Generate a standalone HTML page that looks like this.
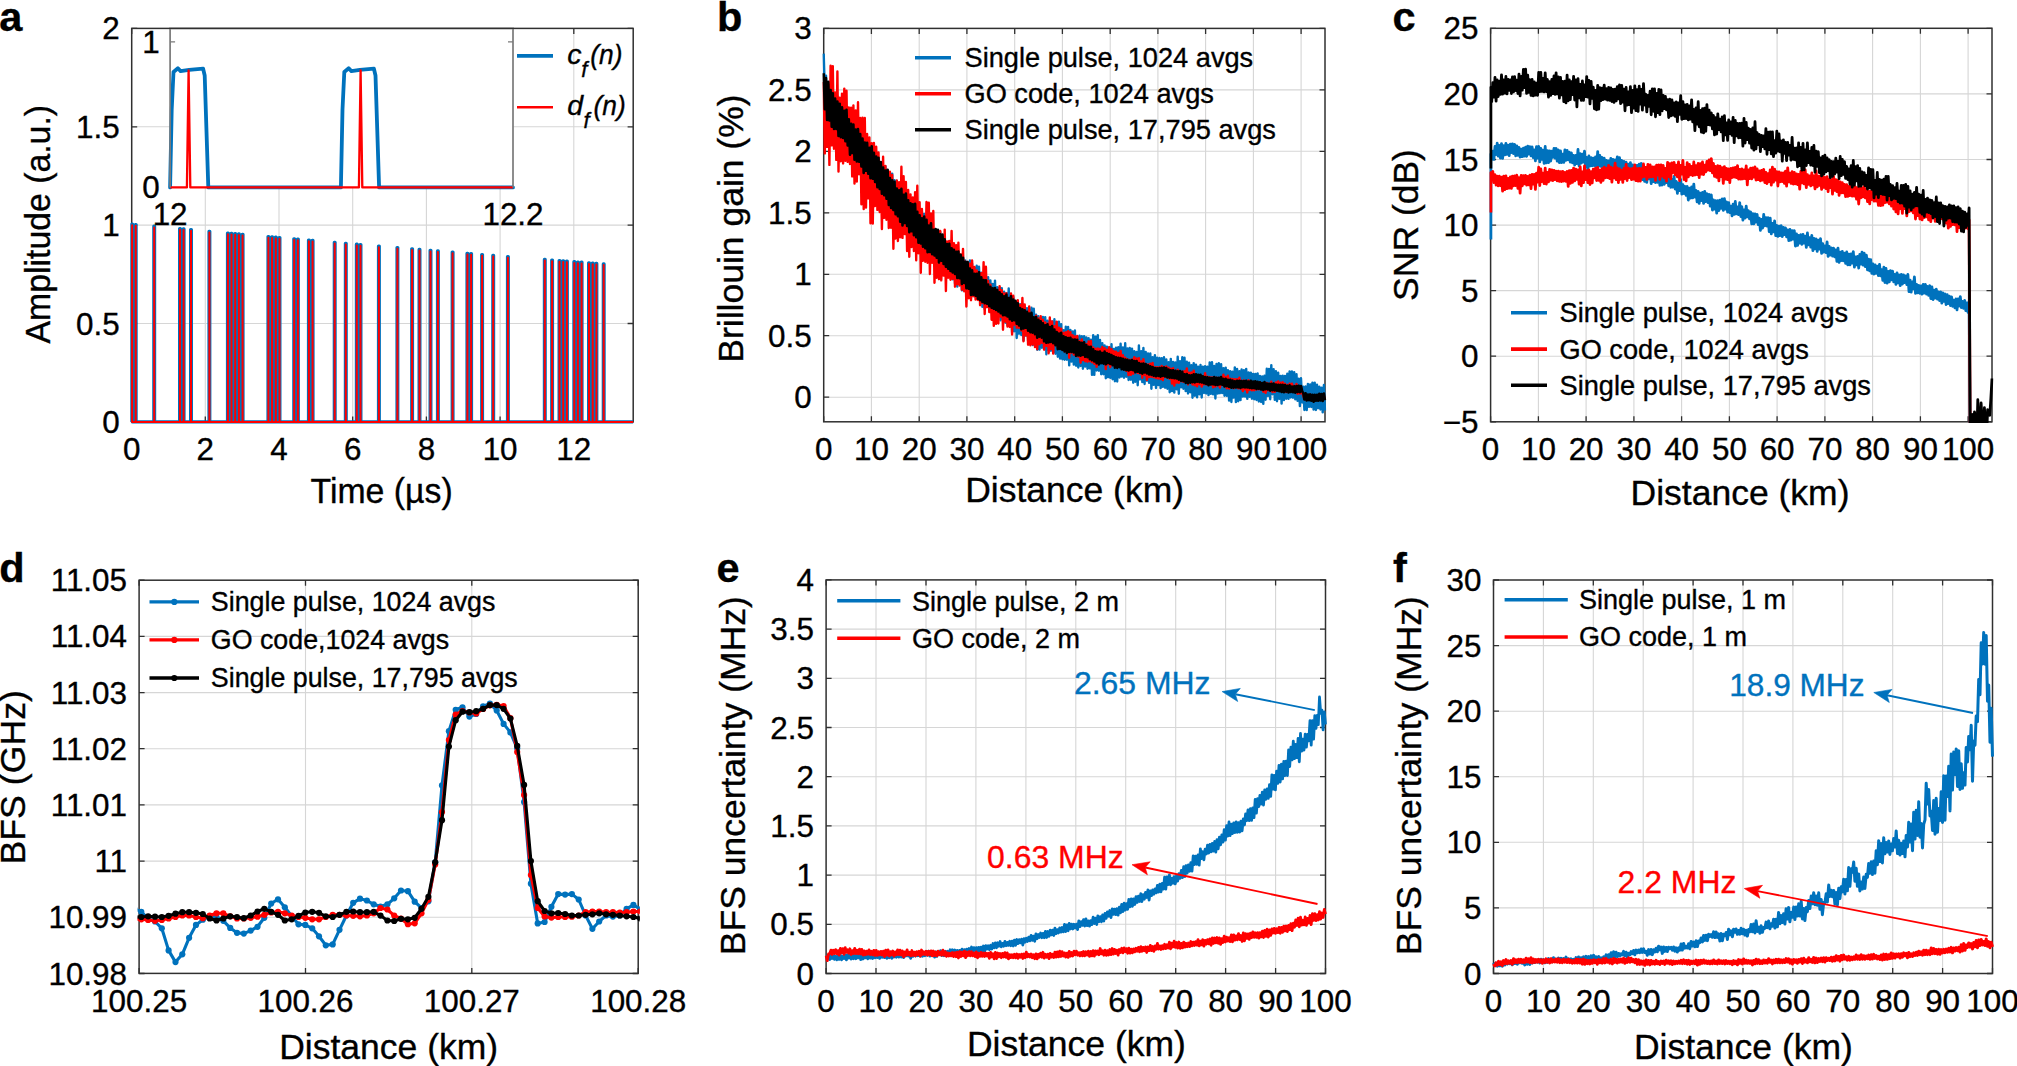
<!DOCTYPE html>
<html><head><meta charset="utf-8"><title>Figure</title>
<style>html,body{margin:0;padding:0;background:#fff}svg{display:block}text{font-family:'Liberation Sans', Arial, Helvetica, sans-serif;stroke-width:0.35px;paint-order:stroke}</style>
</head><body>
<svg width="2017" height="1066" viewBox="0 0 2017 1066">
<defs><clipPath id="cpa"><rect x="130.2" y="28.4" width="504.5" height="394.7"/></clipPath><clipPath id="cpb"><rect x="822.2" y="28.4" width="504.3" height="394.6"/></clipPath><clipPath id="cpc"><rect x="1489.1" y="28.3" width="504.4" height="394.7"/></clipPath><clipPath id="cpd"><rect x="137.6" y="580.2" width="502.1" height="394.4"/></clipPath><clipPath id="cpe"><rect x="824.6" y="579.9" width="502.4" height="394.8"/></clipPath><clipPath id="cpf"><rect x="1492" y="580" width="502" height="394.7"/></clipPath><clipPath id="cpa2"><rect x="130.2" y="28.4" width="504" height="397.5"/></clipPath><clipPath id="cpi"><rect x="168.6" y="28.4" width="345.9" height="160.2"/></clipPath></defs>
<rect width="2017" height="1066" fill="#fff"/>
<path d="M205.3 28.4V421.9M279 28.4V421.9M352.7 28.4V421.9M426.4 28.4V421.9M500.1 28.4V421.9M573.8 28.4V421.9M131.7 323.5H633.1M131.7 225.1H633.1M131.7 126.8H633.1" stroke="#d6d6d6" stroke-width="1.1" fill="none"/>
<path d="M131.7 421.9v-5.5M131.7 28.4v5.5M205.3 421.9v-5.5M205.3 28.4v5.5M279 421.9v-5.5M279 28.4v5.5M352.7 421.9v-5.5M352.7 28.4v5.5M426.4 421.9v-5.5M426.4 28.4v5.5M500.1 421.9v-5.5M500.1 28.4v5.5M573.8 421.9v-5.5M573.8 28.4v5.5M131.7 421.9h5.5M633.1 421.9h-5.5M131.7 323.5h5.5M633.1 323.5h-5.5M131.7 225.1h5.5M633.1 225.1h-5.5M131.7 126.8h5.5M633.1 126.8h-5.5M131.7 28.4h5.5M633.1 28.4h-5.5" stroke="#303030" stroke-width="1.3" fill="none"/>
<rect x="131.7" y="28.4" width="501.5" height="393.5" fill="none" stroke="#303030" stroke-width="1.5"/>
<path d="M131.7 421.9H131.7V224.1H132.5V421.9H135.3V224.5H136.1V421.9H153.8V226.2H154.6V421.9H179.6V228.6H180.4V421.9H183.2V228.9H184V421.9H190.6V229.6H191.4V421.9H209V231.3H209.8V421.9H227.5V233H228.3V421.9H231.1V233.3H231.9V421.9H234.8V233.6H235.6V421.9H238.5V233.9H239.3V421.9H242.2V234.3H243V421.9H268V236.6H268.8V421.9H271.7V236.9H272.5V421.9H275.4V237.2H276.2V421.9H279.1V237.5H279.9V421.9H293.8V238.8H294.6V421.9H297.5V239.1H298.3V421.9H308.5V240.1H309.3V421.9H312.2V240.4H313V421.9H334.3V242.3H335.1V421.9H345.4V243.3H346.2V421.9H356.4V244.2H357.2V421.9H360.1V244.5H360.9V421.9H378.5V246.1H379.3V421.9H397V247.6H397.8V421.9H411.7V248.8H412.5V421.9H419.1V249.4H419.9V421.9H430.1V250.3H430.9V421.9H437.5V250.9H438.3V421.9H452.2V252.1H453V421.9H467V253.3H467.8V421.9H470.7V253.6H471.5V421.9H481.7V254.5H482.5V421.9H492.8V255.4H493.6V421.9H507.5V256.5H508.3V421.9H544.4V259.4H545.2V421.9H551.7V260H552.5V421.9H559.1V260.5H559.9V421.9H562.8V260.8H563.6V421.9H566.5V261.1H567.3V421.9H573.9V261.7H574.7V421.9H577.5V262H578.3V421.9H581.2V262.2H582V421.9H588.6V262.8H589.4V421.9H592.3V263.1H593.1V421.9H596V263.4H596.8V421.9H603.3V263.9H604.1V421.9H633.1" fill="none" stroke="#0072BD" stroke-width="3.2" stroke-linejoin="round" clip-path="url(#cpa2)"/>
<path d="M131.7 421.9H132.1V225.3V421.9H135.7V225.7V421.9H154.2V227.4V421.9H180V229.8V421.9H183.6V230.1V421.9H191V230.8V421.9H209.4V232.5V421.9H227.9V234.2V421.9H231.5V234.5V421.9H235.2V234.8V421.9H238.9V235.1V421.9H242.6V235.5V421.9H268.4V237.8V421.9H272.1V238.1V421.9H275.8V238.4V421.9H279.5V238.7V421.9H294.2V240V421.9H297.9V240.3V421.9H308.9V241.3V421.9H312.6V241.6V421.9H334.7V243.5V421.9H345.8V244.5V421.9H356.8V245.4V421.9H360.5V245.7V421.9H378.9V247.3V421.9H397.4V248.8V421.9H412.1V250V421.9H419.5V250.6V421.9H430.5V251.5V421.9H437.9V252.1V421.9H452.6V253.3V421.9H467.4V254.5V421.9H471.1V254.8V421.9H482.1V255.7V421.9H493.2V256.6V421.9H507.9V257.7V421.9H544.8V260.6V421.9H552.1V261.2V421.9H559.5V261.7V421.9H563.2V262V421.9H566.9V262.3V421.9H574.3V262.9V421.9H577.9V263.2V421.9H581.6V263.4V421.9H589V264V421.9H592.7V264.3V421.9H596.4V264.6V421.9H603.7V265.1V421.9H633.1" fill="none" stroke="#FF0000" stroke-width="2.0" stroke-linejoin="round" clip-path="url(#cpa2)"/>
<text transform="translate(131.7 460.4)" font-size="31.4" text-anchor="middle" stroke="#000">0</text>
<text transform="translate(205.3 460.4)" font-size="31.4" text-anchor="middle" stroke="#000">2</text>
<text transform="translate(279 460.4)" font-size="31.4" text-anchor="middle" stroke="#000">4</text>
<text transform="translate(352.7 460.4)" font-size="31.4" text-anchor="middle" stroke="#000">6</text>
<text transform="translate(426.4 460.4)" font-size="31.4" text-anchor="middle" stroke="#000">8</text>
<text transform="translate(500.1 460.4)" font-size="31.4" text-anchor="middle" stroke="#000">10</text>
<text transform="translate(573.8 460.4)" font-size="31.4" text-anchor="middle" stroke="#000">12</text>
<text transform="translate(119.6 432.9)" font-size="31.4" text-anchor="end" stroke="#000">0</text>
<text transform="translate(119.6 334.5)" font-size="31.4" text-anchor="end" stroke="#000">0.5</text>
<text transform="translate(119.6 236.1)" font-size="31.4" text-anchor="end" stroke="#000">1</text>
<text transform="translate(119.6 137.8)" font-size="31.4" text-anchor="end" stroke="#000">1.5</text>
<text transform="translate(119.6 39.4)" font-size="31.4" text-anchor="end" stroke="#000">2</text>
<text transform="translate(381.6 502.5) scale(0.980 1)" font-size="34.5" text-anchor="middle" stroke="#000">Time (µs)</text>
<text transform="translate(50.2 224.2) rotate(-90) scale(0.980 1)" font-size="34.5" text-anchor="middle" stroke="#000">Amplitude (a.u.)</text>
<rect x="170.1" y="28.4" width="342.9" height="159" fill="#fff"/>
<path d="M170.1 187.4L170.1 187.4L171.7 109.5L173.5 72L177.9 68.3L180.6 71.1L189.1 69.9L203.1 68.7L204.7 75.5L208.3 187.4L340.9 187.4L342.5 109.5L344.3 72L348.7 68.3L351.4 71.1L359.9 69.9L373.9 68.7L375.5 75.5L379.1 187.4L513 187.4" fill="none" stroke="#0072BD" stroke-width="3.8" stroke-linejoin="round" stroke-linecap="round"/>
<path d="M170.1 187.4L186.9 187.4L188.6 70.5L190.3 187.4L358.9 187.4L360.6 70.5L362.3 187.4L513 187.4" fill="none" stroke="#FF0000" stroke-width="2.3" stroke-linejoin="round"/>
<path d="M170.1 41.8h5M513 41.8h-5" stroke="#7a7a7a" stroke-width="1.3" fill="none"/>
<path d="M170.1 29.2V187.4M513 29.2V187.4" stroke="#7a7a7a" stroke-width="1.7" fill="none"/>
<path d="M169.1 28.4H514" stroke="#303030" stroke-width="1.5" fill="none"/>
<text transform="translate(159.8 53.4)" font-size="31.4" text-anchor="end" stroke="#000">1</text>
<text transform="translate(159.6 198.4)" font-size="31.4" text-anchor="end" stroke="#000">0</text>
<text transform="translate(170.1 225)" font-size="31.4" text-anchor="middle" stroke="#000">12</text>
<text transform="translate(513 225)" font-size="31.4" text-anchor="middle" stroke="#000">12.2</text>
<path d="M517 55.9H553" stroke="#0072BD" stroke-width="3.8" fill="none"/>
<path d="M517 107.3H553" stroke="#FF0000" stroke-width="2.5" fill="none"/>
<text transform="translate(567.3 64)" font-size="28.5" font-style="italic" stroke="#000">c</text>
<text transform="translate(581.2 76.8)" font-size="22" font-style="italic" stroke="#000">f</text>
<text transform="translate(590.2 64) scale(0.925 1)" font-size="28.5" font-style="italic" stroke="#000">(n)</text>
<text transform="translate(567.3 114.9)" font-size="28.5" font-style="italic" stroke="#000">d</text>
<text transform="translate(583.6 127.7)" font-size="22" font-style="italic" stroke="#000">f</text>
<text transform="translate(593.6 114.9) scale(0.925 1)" font-size="28.5" font-style="italic" stroke="#000">(n)</text>
<path d="M871.4 28.4V421.8M919.2 28.4V421.8M966.9 28.4V421.8M1014.7 28.4V421.8M1062.4 28.4V421.8M1110.2 28.4V421.8M1157.9 28.4V421.8M1205.6 28.4V421.8M1253.4 28.4V421.8M1301.1 28.4V421.8M823.7 397.2H1325M823.7 335.7H1325M823.7 274.3H1325M823.7 212.8H1325M823.7 151.3H1325M823.7 89.9H1325" stroke="#d6d6d6" stroke-width="1.1" fill="none"/>
<path d="M823.7 421.8v-5.5M823.7 28.4v5.5M871.4 421.8v-5.5M871.4 28.4v5.5M919.2 421.8v-5.5M919.2 28.4v5.5M966.9 421.8v-5.5M966.9 28.4v5.5M1014.7 421.8v-5.5M1014.7 28.4v5.5M1062.4 421.8v-5.5M1062.4 28.4v5.5M1110.2 421.8v-5.5M1110.2 28.4v5.5M1157.9 421.8v-5.5M1157.9 28.4v5.5M1205.6 421.8v-5.5M1205.6 28.4v5.5M1253.4 421.8v-5.5M1253.4 28.4v5.5M1301.1 421.8v-5.5M1301.1 28.4v5.5M823.7 397.2h5.5M1325 397.2h-5.5M823.7 335.7h5.5M1325 335.7h-5.5M823.7 274.3h5.5M1325 274.3h-5.5M823.7 212.8h5.5M1325 212.8h-5.5M823.7 151.3h5.5M1325 151.3h-5.5M823.7 89.9h5.5M1325 89.9h-5.5M823.7 28.4h5.5M1325 28.4h-5.5" stroke="#303030" stroke-width="1.3" fill="none"/>
<rect x="823.7" y="28.4" width="501.3" height="393.4" fill="none" stroke="#303030" stroke-width="1.5"/>
<polyline points="823.7,53.6 824.8,91.2 826,75.6 827.1,117.2 828.3,89 829.4,118.8 830.6,92.7 831.7,121.1 832.8,89.6 834,126.5 835.1,94.4 836.3,125.2 837.4,96.4 838.5,133.8 839.7,105.6 840.8,136.4 842,110.3 843.1,138.4 844.3,113.9 845.4,142.5 846.5,115.1 847.7,150.4 848.8,121.7 850,150.7 851.1,126 852.2,153.5 853.4,125.8 854.5,158.2 855.7,131.4 856.8,160 858,133.1 859.1,165.7 860.2,133.8 861.4,166.5 862.5,138.2 863.7,172.9 864.8,137.1 866,170.8 867.1,145 868.2,176.2 869.4,147.7 870.5,175.7 871.7,150.5 872.8,178.4 873.9,153.6 875.1,181.8 876.2,153.7 877.4,190.5 878.5,158 879.7,191.6 880.8,163.3 881.9,193.7 883.1,168.1 884.2,196 885.4,166.2 886.5,195.7 887.6,170.4 888.8,200.7 889.9,172.2 891.1,203.5 892.2,173.6 893.4,210.2 894.5,180.2 895.6,209.7 896.8,180.9 897.9,215.8 899.1,185.4 900.2,219.5 901.4,189 902.5,224.9 903.6,194.9 904.8,226.6 905.9,193.7 907.1,227.2 908.2,199.6 909.3,229.6 910.5,202.5 911.6,230.8 912.8,206.2 913.9,236.9 915.1,207.7 916.2,238.4 917.3,208.1 918.5,239.4 919.6,212.6 920.8,240.4 921.9,211.3 923,246.1 924.2,213.9 925.3,249.3 926.5,218 927.6,251.3 928.8,224.1 929.9,255.5 931,226.8 932.2,255.7 933.3,229.2 934.5,258.7 935.6,229.2 936.7,260.6 937.9,233.2 939,261 940.2,231.7 941.3,263.6 942.5,237.2 943.6,265.5 944.7,240.3 945.9,268.1 947,243.1 948.2,274.3 949.3,241.2 950.5,276.6 951.6,249.2 952.7,279.4 953.9,249.8 955,283.4 956.2,252.9 957.3,286.6 958.4,255.8 959.6,284.1 960.7,257 961.9,290.4 963,257 964.2,288.3 965.3,260.4 966.4,291.3 967.6,262.7 968.7,292.8 969.9,260.4 971,298.4 972.1,263.7 973.3,295 974.4,267.7 975.6,297.1 976.7,265.7 977.9,298.2 979,266.7 980.1,299.3 981.3,272.7 982.4,306.9 983.6,274 984.7,309 985.9,276.5 987,306 988.1,277.1 989.3,309.3 990.4,280.5 991.6,309.7 992.7,284 993.8,317.2 995,280.6 996.1,319.8 997.3,287.3 998.4,315.6 999.6,287.6 1000.7,320.4 1001.8,288.2 1003,318.4 1004.1,291.7 1005.3,322.7 1006.4,293.1 1007.5,325.3 1008.7,288.5 1009.8,323.4 1011,297.4 1012.1,332.4 1013.3,297.2 1014.4,331.3 1015.5,302.8 1016.7,338 1017.8,305.2 1019,333.8 1020.1,304.3 1021.3,335 1022.4,304 1023.5,340.4 1024.7,306.6 1025.8,335.6 1027,308.2 1028.1,340.9 1029.2,309.5 1030.4,343.8 1031.5,307.8 1032.7,345.1 1033.8,308.7 1035,341.9 1036.1,314.7 1037.2,349.7 1038.4,316.1 1039.5,349.6 1040.7,318.2 1041.8,347.7 1042.9,316.9 1044.1,348.9 1045.2,317.1 1046.4,354.4 1047.5,320.7 1048.7,350.1 1049.8,321.3 1050.9,350.7 1052.1,321.4 1053.2,352.2 1054.4,319.2 1055.5,353.8 1056.7,322.1 1057.8,356.7 1058.9,321.6 1060.1,358.6 1061.2,324.2 1062.4,359.3 1063.5,330.3 1064.6,359.7 1065.8,326.7 1066.9,359.8 1068.1,327 1069.2,365.4 1070.4,330 1071.5,361.6 1072.6,331.4 1073.8,364.6 1074.9,330.5 1076.1,365.7 1077.2,336.9 1078.3,367.5 1079.5,335.7 1080.6,366 1081.8,336.2 1082.9,368.8 1084.1,336.1 1085.2,366.6 1086.3,337.4 1087.5,368.7 1088.6,338.1 1089.8,368.4 1090.9,339.6 1092,374.9 1093.2,335.1 1094.3,374.9 1095.5,336.6 1096.6,370.5 1097.8,335.1 1098.9,370.8 1100,340 1101.2,374.2 1102.3,343.1 1103.5,374.3 1104.6,345.4 1105.8,378.2 1106.9,346.8 1108,377.3 1109.2,347.5 1110.3,377.9 1111.5,344.2 1112.6,379.3 1113.7,349 1114.9,381.3 1116,347.6 1117.2,381.5 1118.3,347.2 1119.5,377.5 1120.6,343.7 1121.7,376.6 1122.9,347.5 1124,377.7 1125.2,343.3 1126.3,376.7 1127.4,348.5 1128.6,380 1129.7,347.9 1130.9,379.7 1132,348.6 1133.2,382.8 1134.3,351.3 1135.4,381.8 1136.6,352 1137.7,385.2 1138.9,345.4 1140,379.5 1141.2,351.3 1142.3,382.1 1143.4,348 1144.6,384 1145.7,351.9 1146.9,380.7 1148,353.5 1149.1,382.9 1150.3,353.5 1151.4,388.7 1152.6,357.1 1153.7,384.9 1154.9,355.1 1156,388 1157.1,357.7 1158.3,385.1 1159.4,358 1160.6,388.1 1161.7,358.3 1162.8,386.9 1164,357.3 1165.1,387.8 1166.3,359.4 1167.4,388.7 1168.6,362.2 1169.7,392.3 1170.8,358.9 1172,391.1 1173.1,361.9 1174.3,392.6 1175.4,362.4 1176.6,389.3 1177.7,356.7 1178.8,393.7 1180,361.1 1181.1,387.4 1182.3,357.2 1183.4,388.8 1184.5,357.8 1185.7,391.1 1186.8,361.7 1188,393.5 1189.1,362.8 1190.3,392.2 1191.4,365.1 1192.5,397.7 1193.7,363.1 1194.8,395.8 1196,364.8 1197.1,397.4 1198.2,366.8 1199.4,394.4 1200.5,365 1201.7,397.5 1202.8,366.6 1204,393 1205.1,366.2 1206.2,393.5 1207.4,366.6 1208.5,395.1 1209.7,362.4 1210.8,393.9 1212,362.2 1213.1,394.4 1214.2,366 1215.4,398.5 1216.5,364 1217.7,393.6 1218.8,363.3 1219.9,393.3 1221.1,364.1 1222.2,393.1 1223.4,368.1 1224.5,395.8 1225.7,367.6 1226.8,395.9 1227.9,370.1 1229.1,400.6 1230.2,371.1 1231.4,402 1232.5,371.7 1233.6,397.6 1234.8,367.4 1235.9,402.1 1237.1,369 1238.2,401.3 1239.4,371.3 1240.5,400.1 1241.6,369.5 1242.8,396.6 1243.9,370.1 1245.1,396.6 1246.2,368.9 1247.3,398.9 1248.5,372.4 1249.6,396.9 1250.8,372.6 1251.9,398.8 1253.1,374 1254.2,399.3 1255.3,374 1256.5,400 1257.6,373.4 1258.8,401.5 1259.9,375.9 1261.1,402 1262.2,376.4 1263.3,403.9 1264.5,375.6 1265.6,399.8 1266.8,368.7 1267.9,396 1269,369 1270.2,399.2 1271.3,365.1 1272.5,394.2 1273.6,369.1 1274.8,399.9 1275.9,371.2 1277,401.3 1278.2,372.8 1279.3,398.9 1280.5,376 1281.6,403.6 1282.7,375.6 1283.9,400.1 1285,375.9 1286.2,398.8 1287.3,373.7 1288.5,398.9 1289.6,371.4 1290.7,397.5 1291.9,371.4 1293,397.7 1294.2,372.3 1295.3,399.4 1296.5,374.2 1297.6,400.9 1298.7,378.7 1299.9,406.1 1301,378.2 1302.2,402.5 1303.3,386.6 1304.4,410 1305.6,386.5 1306.7,410.1 1307.9,383.9 1309,406.9 1310.2,384.4 1311.3,407 1312.4,382.7 1313.6,409.6 1314.7,382.6 1315.9,410 1317,384.8 1318.1,408.2 1319.3,386.6 1320.4,409.5 1321.6,387.6 1322.7,412.4 1323.9,385 1325,410.5" fill="none" stroke="#0072BD" stroke-width="2.4" stroke-linejoin="round" clip-path="url(#cpb)"/>
<polyline points="823.7,81.9 824.8,153.4 826,82.1 827.1,146.9 828.3,84.7 829.4,164.9 830.6,65.7 831.7,145.4 832.8,66.2 834,148.7 835.1,92.4 836.3,159.9 837.4,71.4 838.5,171.5 839.7,97.8 840.8,161.3 842,93.6 843.1,163.4 844.3,88.6 845.4,160.8 846.5,90.8 847.7,161.9 848.8,107.5 850,164 851.1,107.6 852.2,176.4 853.4,105.5 854.5,183.6 855.7,110.4 856.8,181.6 858,102.3 859.1,174.2 860.2,118 861.4,204.3 862.5,117.7 863.7,209 864.8,118 866,207.6 867.1,134 868.2,198.4 869.4,137.5 870.5,223.3 871.7,143.2 872.8,223.5 873.9,142.9 875.1,206.1 876.2,146.8 877.4,209.9 878.5,152.4 879.7,212 880.8,162.5 881.9,229 883.1,156.8 884.2,217.9 885.4,165.9 886.5,219.7 887.6,170.1 888.8,228.1 889.9,171.7 891.1,227.7 892.2,174.9 893.4,248.8 894.5,187.6 895.6,238.6 896.8,180.5 897.9,241.1 899.1,182.3 900.2,237.3 901.4,166.8 902.5,237.9 903.6,176.2 904.8,234.1 905.9,181.9 907.1,251 908.2,190 909.3,256.8 910.5,194.4 911.6,247 912.8,197.5 913.9,251.1 915.1,192.3 916.2,260.2 917.3,185.8 918.5,253.3 919.6,202.2 920.8,272.8 921.9,208.9 923,260.7 924.2,217.6 925.3,261.7 926.5,201.9 927.6,262.8 928.8,202.8 929.9,274.1 931,213.4 932.2,262.7 933.3,211 934.5,282.7 935.6,231 936.7,277.8 937.9,232.5 939,279.1 940.2,231 941.3,280.4 942.5,237.5 943.6,275.6 944.7,229.6 945.9,291 947,241.5 948.2,277.8 949.3,240.9 950.5,279.8 951.6,231 952.7,278.7 953.9,243.3 955,286.6 956.2,245.1 957.3,284.3 958.4,242.7 959.6,285.5 960.7,254.5 961.9,289.8 963,248.9 964.2,291.2 965.3,261.6 966.4,306.5 967.6,262 968.7,298.3 969.9,263.8 971,300.3 972.1,260.5 973.3,296.3 974.4,266.9 975.6,299.6 976.7,270.4 977.9,300 979,272.2 980.1,305.3 981.3,273.3 982.4,303 983.6,262.3 984.7,314 985.9,266.8 987,307.1 988.1,281 989.3,312.1 990.4,284.7 991.6,319.8 992.7,290.1 993.8,325.9 995,288.5 996.1,323.9 997.3,292.1 998.4,323.5 999.6,286.1 1000.7,316.7 1001.8,290.1 1003,329.7 1004.1,293.4 1005.3,321.6 1006.4,293.2 1007.5,326.6 1008.7,299.2 1009.8,327 1011,293.5 1012.1,334.5 1013.3,295.7 1014.4,324.7 1015.5,301.8 1016.7,327.7 1017.8,300.2 1019,327.9 1020.1,305 1021.3,330.5 1022.4,298 1023.5,341.3 1024.7,304.5 1025.8,335.4 1027,312.4 1028.1,344.8 1029.2,306.4 1030.4,345.4 1031.5,317.2 1032.7,344.5 1033.8,318.1 1035,347.1 1036.1,315.6 1037.2,349.3 1038.4,318.4 1039.5,344.3 1040.7,316.2 1041.8,342.8 1042.9,319.8 1044.1,349.8 1045.2,322.5 1046.4,345.9 1047.5,323.6 1048.7,353.4 1049.8,317.5 1050.9,349.3 1052.1,321.5 1053.2,353.6 1054.4,326.3 1055.5,344.1 1056.7,321.6 1057.8,347.5 1058.9,327.8 1060.1,348.6 1061.2,328.8 1062.4,349.7 1063.5,333 1064.6,351.4 1065.8,332.3 1066.9,351.8 1068.1,331.3 1069.2,357.7 1070.4,332.1 1071.5,352.6 1072.6,335.2 1073.8,354.6 1074.9,336.5 1076.1,356.2 1077.2,335.9 1078.3,356.6 1079.5,341.3 1080.6,362.8 1081.8,339.4 1082.9,360.1 1084.1,342.6 1085.2,361.2 1086.3,344.2 1087.5,361.7 1088.6,341.5 1089.8,361.2 1090.9,340.9 1092,362.3 1093.2,347.5 1094.3,363.8 1095.5,348.7 1096.6,366.9 1097.8,348.5 1098.9,363.8 1100,348.9 1101.2,362.6 1102.3,347 1103.5,362.5 1104.6,348.1 1105.8,369.1 1106.9,349.7 1108,364.3 1109.2,347.1 1110.3,367 1111.5,349.3 1112.6,364.6 1113.7,351.3 1114.9,366.1 1116,351.7 1117.2,365.5 1118.3,352.9 1119.5,366 1120.6,350.9 1121.7,367 1122.9,355.1 1124,369.6 1125.2,357.7 1126.3,370.8 1127.4,359.3 1128.6,375.1 1129.7,359.9 1130.9,374.9 1132,359.5 1133.2,373.7 1134.3,357.3 1135.4,371 1136.6,358.4 1137.7,373.1 1138.9,358.1 1140,373.6 1141.2,361.5 1142.3,377.8 1143.4,359.1 1144.6,375.1 1145.7,364 1146.9,380 1148,364.5 1149.1,377.1 1150.3,363.6 1151.4,376.9 1152.6,363 1153.7,377.3 1154.9,367.2 1156,378.1 1157.1,367.2 1158.3,378.5 1159.4,367.3 1160.6,379 1161.7,365.9 1162.8,380.1 1164,366.9 1165.1,377 1166.3,366.4 1167.4,377.7 1168.6,367.8 1169.7,378.9 1170.8,368.8 1172,383.6 1173.1,368.1 1174.3,385.6 1175.4,371.2 1176.6,382.6 1177.7,369.7 1178.8,382.8 1180,371.7 1181.1,381.2 1182.3,371.7 1183.4,381.8 1184.5,371.1 1185.7,381.6 1186.8,368.4 1188,384.5 1189.1,372.8 1190.3,382.8 1191.4,372.5 1192.5,384.5 1193.7,370.6 1194.8,385.3 1196,375 1197.1,386.4 1198.2,375.6 1199.4,384.2 1200.5,375.8 1201.7,386.6 1202.8,376.4 1204,384.3 1205.1,373.1 1206.2,384.4 1207.4,376.7 1208.5,385.1 1209.7,377.1 1210.8,384.9 1212,377.5 1213.1,387.3 1214.2,377.7 1215.4,386.6 1216.5,377.7 1217.7,385.3 1218.8,378 1219.9,387.6 1221.1,377.5 1222.2,385.1 1223.4,374.7 1224.5,386.5 1225.7,376.9 1226.8,388.4 1227.9,375.8 1229.1,388.5 1230.2,378.8 1231.4,386.5 1232.5,379 1233.6,388.4 1234.8,379.2 1235.9,387.2 1237.1,379.2 1238.2,388.4 1239.4,377.6 1240.5,388.9 1241.6,381 1242.8,391.1 1243.9,380.4 1245.1,389.3 1246.2,382.1 1247.3,392.5 1248.5,380.3 1249.6,389.8 1250.8,381.4 1251.9,390.4 1253.1,383.4 1254.2,390.2 1255.3,382.5 1256.5,389.6 1257.6,383.1 1258.8,389.3 1259.9,382.3 1261.1,389.4 1262.2,383.3 1263.3,391.7 1264.5,383.4 1265.6,392.8 1266.8,382.9 1267.9,390.2 1269,383.8 1270.2,390.7 1271.3,381.8 1272.5,392.1 1273.6,383.9 1274.8,391.8 1275.9,382.5 1277,390.2 1278.2,381.4 1279.3,389.6 1280.5,382.6 1281.6,391.2 1282.7,382.3 1283.9,390.5 1285,383.8 1286.2,392.1 1287.3,385 1288.5,391.9 1289.6,383.8 1290.7,390.8 1291.9,383.8 1293,390.9 1294.2,385.8 1295.3,391.6 1296.5,384 1297.6,393.8 1298.7,385.9 1299.9,393.6 1301,387 1302.2,393.1 1303.3,395.9 1304.4,399 1305.6,394.6 1306.7,400 1307.9,395.1 1309,399.1 1310.2,394.7 1311.3,398.8 1312.4,395.4 1313.6,399.2 1314.7,395.7 1315.9,399.7 1317,395.7 1318.1,400.1 1319.3,394.7 1320.4,399.9 1321.6,395.1 1322.7,399.2 1323.9,396.1 1325,399.3" fill="none" stroke="#FF0000" stroke-width="2.4" stroke-linejoin="round" clip-path="url(#cpb)"/>
<polyline points="823.7,73.2 824.8,109.3 826,78 827.1,119.9 828.3,81.7 829.4,120.4 830.6,90 831.7,126.7 832.8,93.2 834,129 835.1,98.5 836.3,128.9 837.4,101.5 838.5,135.9 839.7,103.9 840.8,137.2 842,107.4 843.1,138 844.3,110.9 845.4,141.3 846.5,109.7 847.7,145.4 848.8,119.4 850,154.6 851.1,123.9 852.2,152.9 853.4,124.6 854.5,159.8 855.7,129.6 856.8,161.4 858,129.1 859.1,161.6 860.2,134.1 861.4,166.4 862.5,138.5 863.7,172.9 864.8,142.6 866,170.8 867.1,142.9 868.2,173.8 869.4,147.9 870.5,178.3 871.7,146.3 872.8,178.6 873.9,152.8 875.1,181.9 876.2,156.6 877.4,187.3 878.5,157.9 879.7,188.9 880.8,162 881.9,193.8 883.1,167.6 884.2,195.2 885.4,170.6 886.5,198.7 887.6,169.8 888.8,205 889.9,178.1 891.1,208 892.2,180.4 893.4,210 894.5,181.8 895.6,214.1 896.8,188.6 897.9,216.2 899.1,190.2 900.2,221.7 901.4,188.8 902.5,225.4 903.6,194.8 904.8,223 905.9,193.5 907.1,226 908.2,200.4 909.3,232.1 910.5,203.3 911.6,231.1 912.8,204.3 913.9,235.2 915.1,203.8 916.2,237.3 917.3,211.7 918.5,242.7 919.6,215.3 920.8,243.4 921.9,218.2 923,246.8 924.2,216.6 925.3,248.1 926.5,219.7 927.6,252.1 928.8,225.6 929.9,251.9 931,223.2 932.2,254.1 933.3,229.9 934.5,255.5 935.6,229 936.7,257.6 937.9,229.9 939,262.4 940.2,234.4 941.3,260.7 942.5,234.6 943.6,264 944.7,239.2 945.9,266.7 947,244.1 948.2,268.8 949.3,243.8 950.5,270.9 951.6,248.3 952.7,272.4 953.9,249.8 955,273.9 956.2,251.8 957.3,277.9 958.4,251.5 959.6,278.1 960.7,254.9 961.9,284 963,257.8 964.2,283 965.3,261.8 966.4,288.3 967.6,262.1 968.7,288.6 969.9,268.6 971,294.9 972.1,270.3 973.3,294.7 974.4,273.9 975.6,295.7 976.7,273.8 977.9,298.8 979,272.4 980.1,300.2 981.3,277.4 982.4,301.9 983.6,280.1 984.7,303.1 985.9,280.3 987,303.8 988.1,284.5 989.3,306.1 990.4,286.8 991.6,307.7 992.7,288.3 993.8,308.8 995,288.1 996.1,309.9 997.3,290.1 998.4,311.4 999.6,292.2 1000.7,313.2 1001.8,294.4 1003,315.2 1004.1,296.2 1005.3,315.2 1006.4,294.5 1007.5,316.4 1008.7,298 1009.8,319.1 1011,296.3 1012.1,320.7 1013.3,299.5 1014.4,320.1 1015.5,300.7 1016.7,323.6 1017.8,303.2 1019,325.5 1020.1,308.1 1021.3,329.2 1022.4,309.3 1023.5,328.4 1024.7,310.2 1025.8,327.8 1027,311.9 1028.1,330.7 1029.2,313.6 1030.4,332.2 1031.5,312.9 1032.7,332.7 1033.8,317.4 1035,334.1 1036.1,317 1037.2,337.6 1038.4,319.9 1039.5,336.6 1040.7,321.4 1041.8,337.7 1042.9,323.3 1044.1,341.3 1045.2,325.2 1046.4,342.8 1047.5,324.2 1048.7,342.5 1049.8,327 1050.9,342 1052.1,326 1053.2,343.2 1054.4,329.5 1055.5,345.2 1056.7,332 1057.8,349.1 1058.9,333.5 1060.1,349 1061.2,332.8 1062.4,349.9 1063.5,336.3 1064.6,351.5 1065.8,337.3 1066.9,353 1068.1,338.1 1069.2,352 1070.4,337.7 1071.5,352 1072.6,339.6 1073.8,352.5 1074.9,339.5 1076.1,355.8 1077.2,339.8 1078.3,355.4 1079.5,342.4 1080.6,355.8 1081.8,342.8 1082.9,354.9 1084.1,342.4 1085.2,356.8 1086.3,345.1 1087.5,357.2 1088.6,346.9 1089.8,359.1 1090.9,346.9 1092,360.3 1093.2,349.4 1094.3,361.4 1095.5,351.2 1096.6,363.2 1097.8,351.7 1098.9,364.4 1100,351.5 1101.2,363.2 1102.3,353.1 1103.5,363.7 1104.6,351.6 1105.8,364.3 1106.9,353.4 1108,363.1 1109.2,354 1110.3,364 1111.5,355.1 1112.6,365.1 1113.7,356.3 1114.9,367.7 1116,357.4 1117.2,367.9 1118.3,357.9 1119.5,367.1 1120.6,358.1 1121.7,369.3 1122.9,358.8 1124,369.7 1125.2,359.6 1126.3,370.2 1127.4,359.8 1128.6,370.5 1129.7,360.5 1130.9,369.8 1132,360 1133.2,370.3 1134.3,361 1135.4,372.3 1136.6,361 1137.7,371.7 1138.9,363.1 1140,372.8 1141.2,363.7 1142.3,373.6 1143.4,363.6 1144.6,372.5 1145.7,364.1 1146.9,373.4 1148,365.3 1149.1,374.5 1150.3,366.4 1151.4,374.9 1152.6,367 1153.7,375.8 1154.9,368.1 1156,376.3 1157.1,368.2 1158.3,375.9 1159.4,368 1160.6,376.7 1161.7,367.7 1162.8,375.9 1164,367.5 1165.1,376.5 1166.3,368.1 1167.4,377.5 1168.6,369.6 1169.7,377.8 1170.8,370.3 1172,377.9 1173.1,370.3 1174.3,378.3 1175.4,370.7 1176.6,378.5 1177.7,371.2 1178.8,379.6 1180,371.1 1181.1,380.8 1182.3,371.8 1183.4,381.1 1184.5,374.2 1185.7,382.9 1186.8,374 1188,383.3 1189.1,375.3 1190.3,382.6 1191.4,375.2 1192.5,382.3 1193.7,374.3 1194.8,382.4 1196,374.3 1197.1,381.7 1198.2,374.9 1199.4,382.1 1200.5,374.7 1201.7,382.5 1202.8,376.3 1204,383.2 1205.1,377 1206.2,384 1207.4,377.3 1208.5,385.2 1209.7,377.7 1210.8,384.5 1212,378 1213.1,384.4 1214.2,377.1 1215.4,385 1216.5,377.9 1217.7,385 1218.8,377.7 1219.9,384.4 1221.1,377 1222.2,384.8 1223.4,378.9 1224.5,386.5 1225.7,378.9 1226.8,386.2 1227.9,379.8 1229.1,387 1230.2,379.8 1231.4,387.7 1232.5,380.6 1233.6,387.6 1234.8,381.2 1235.9,387.4 1237.1,380.9 1238.2,387.5 1239.4,380.7 1240.5,388 1241.6,381.1 1242.8,387.2 1243.9,381 1245.1,387.4 1246.2,380.8 1247.3,387.5 1248.5,381.5 1249.6,388 1250.8,380.9 1251.9,388.3 1253.1,381.6 1254.2,388.3 1255.3,381.2 1256.5,389 1257.6,381.7 1258.8,388.8 1259.9,382.2 1261.1,389.5 1262.2,383 1263.3,390 1264.5,382.1 1265.6,389.2 1266.8,383.6 1267.9,389.5 1269,383.7 1270.2,390.6 1271.3,383.8 1272.5,390.2 1273.6,383.5 1274.8,390.5 1275.9,384.5 1277,390.7 1278.2,384.7 1279.3,391.2 1280.5,384.9 1281.6,392 1282.7,384.7 1283.9,392.2 1285,385 1286.2,391.6 1287.3,385.9 1288.5,392.5 1289.6,385.2 1290.7,392 1291.9,386.5 1293,392.2 1294.2,386.2 1295.3,392.7 1296.5,386 1297.6,392.1 1298.7,385.8 1299.9,392.3 1301,386 1302.2,391.3 1303.3,393.2 1304.4,399.5 1305.6,393.2 1306.7,400.5 1307.9,394.5 1309,400.3 1310.2,394.4 1311.3,400.7 1312.4,394.9 1313.6,401.7 1314.7,394.8 1315.9,400.7 1317,394.9 1318.1,400.7 1319.3,393.7 1320.4,400.5 1321.6,394 1322.7,401 1323.9,393.6 1325,400.2" fill="none" stroke="#000000" stroke-width="2.6" stroke-linejoin="round" clip-path="url(#cpb)"/>
<text transform="translate(823.7 460.3)" font-size="31.4" text-anchor="middle" stroke="#000">0</text>
<text transform="translate(871.4 460.3)" font-size="31.4" text-anchor="middle" stroke="#000">10</text>
<text transform="translate(919.2 460.3)" font-size="31.4" text-anchor="middle" stroke="#000">20</text>
<text transform="translate(966.9 460.3)" font-size="31.4" text-anchor="middle" stroke="#000">30</text>
<text transform="translate(1014.7 460.3)" font-size="31.4" text-anchor="middle" stroke="#000">40</text>
<text transform="translate(1062.4 460.3)" font-size="31.4" text-anchor="middle" stroke="#000">50</text>
<text transform="translate(1110.2 460.3)" font-size="31.4" text-anchor="middle" stroke="#000">60</text>
<text transform="translate(1157.9 460.3)" font-size="31.4" text-anchor="middle" stroke="#000">70</text>
<text transform="translate(1205.6 460.3)" font-size="31.4" text-anchor="middle" stroke="#000">80</text>
<text transform="translate(1253.4 460.3)" font-size="31.4" text-anchor="middle" stroke="#000">90</text>
<text transform="translate(1301.1 460.3)" font-size="31.4" text-anchor="middle" stroke="#000">100</text>
<text transform="translate(811.6 408.2)" font-size="31.4" text-anchor="end" stroke="#000">0</text>
<text transform="translate(811.6 346.7)" font-size="31.4" text-anchor="end" stroke="#000">0.5</text>
<text transform="translate(811.6 285.3)" font-size="31.4" text-anchor="end" stroke="#000">1</text>
<text transform="translate(811.6 223.8)" font-size="31.4" text-anchor="end" stroke="#000">1.5</text>
<text transform="translate(811.6 162.3)" font-size="31.4" text-anchor="end" stroke="#000">2</text>
<text transform="translate(811.6 100.9)" font-size="31.4" text-anchor="end" stroke="#000">2.5</text>
<text transform="translate(811.6 39.4)" font-size="31.4" text-anchor="end" stroke="#000">3</text>
<text transform="translate(1074.6 502.3)" font-size="35.5" text-anchor="middle" stroke="#000">Distance (km)</text>
<text transform="translate(743 228.5) rotate(-90)" font-size="35.5" text-anchor="middle" stroke="#000">Brillouin gain (%)</text>
<path d="M915 57.8H951" stroke="#0072BD" stroke-width="3.6" fill="none"/>
<text transform="translate(964.5 67.4)" font-size="27.2" stroke="#000">Single pulse, 1024 avgs</text>
<path d="M915 93.8H951" stroke="#FF0000" stroke-width="3.6" fill="none"/>
<text transform="translate(964.5 103.3)" font-size="27.2" stroke="#000">GO code, 1024 avgs</text>
<path d="M915 129.7H951" stroke="#000000" stroke-width="3.6" fill="none"/>
<text transform="translate(964.5 139.3)" font-size="27.2" stroke="#000">Single pulse, 17,795 avgs</text>
<path d="M1538.4 28.3V421.8M1586.1 28.3V421.8M1633.9 28.3V421.8M1681.6 28.3V421.8M1729.4 28.3V421.8M1777.1 28.3V421.8M1824.9 28.3V421.8M1872.6 28.3V421.8M1920.4 28.3V421.8M1968.1 28.3V421.8M1490.6 356.2H1992M1490.6 290.6H1992M1490.6 225.1H1992M1490.6 159.5H1992M1490.6 93.9H1992" stroke="#d6d6d6" stroke-width="1.1" fill="none"/>
<path d="M1490.6 421.8v-5.5M1490.6 28.3v5.5M1538.4 421.8v-5.5M1538.4 28.3v5.5M1586.1 421.8v-5.5M1586.1 28.3v5.5M1633.9 421.8v-5.5M1633.9 28.3v5.5M1681.6 421.8v-5.5M1681.6 28.3v5.5M1729.4 421.8v-5.5M1729.4 28.3v5.5M1777.1 421.8v-5.5M1777.1 28.3v5.5M1824.9 421.8v-5.5M1824.9 28.3v5.5M1872.6 421.8v-5.5M1872.6 28.3v5.5M1920.4 421.8v-5.5M1920.4 28.3v5.5M1968.1 421.8v-5.5M1968.1 28.3v5.5M1490.6 421.8h5.5M1992 421.8h-5.5M1490.6 356.2h5.5M1992 356.2h-5.5M1490.6 290.6h5.5M1992 290.6h-5.5M1490.6 225.1h5.5M1992 225.1h-5.5M1490.6 159.5h5.5M1992 159.5h-5.5M1490.6 93.9h5.5M1992 93.9h-5.5M1490.6 28.3h5.5M1992 28.3h-5.5" stroke="#303030" stroke-width="1.3" fill="none"/>
<rect x="1490.6" y="28.3" width="501.4" height="393.5" fill="none" stroke="#303030" stroke-width="1.5"/>
<polyline points="1490.9,239.5 1490.9,154.2 1491.7,159.6 1492.8,151.2 1493.9,159.3 1495,146.5 1496.1,154.6 1497.2,143.1 1498.2,156.2 1499.3,145.5 1500.4,158.2 1501.5,143.7 1502.6,158.4 1503.7,145.6 1504.8,154.9 1505.9,143.5 1507,154.4 1508.1,145.1 1509.2,155.5 1510.3,144.2 1511.4,152.6 1512.4,143.9 1513.5,153.6 1514.6,144.3 1515.7,155.8 1516.8,146 1517.9,155.4 1519,147.3 1520.1,157.1 1521.2,149.1 1522.3,156.7 1523.4,148.1 1524.5,156.1 1525.6,147.1 1526.6,156.4 1527.7,146.2 1528.8,154.1 1529.9,146.6 1531,155.9 1532.1,146.9 1533.2,157.5 1534.3,149.9 1535.4,160.9 1536.5,146.6 1537.6,158.1 1538.7,146.4 1539.8,161.8 1540.8,148.5 1541.9,159.4 1543,150.1 1544.1,163.3 1545.2,146.5 1546.3,162.9 1547.4,150.6 1548.5,162.6 1549.6,151 1550.7,161.2 1551.8,151.1 1552.9,157.3 1554,148.3 1555.1,158 1556.1,148.3 1557.2,161.2 1558.3,149.9 1559.4,162.7 1560.5,150.9 1561.6,162.6 1562.7,154.2 1563.8,162.4 1564.9,149.8 1566,160.4 1567.1,150.3 1568.2,159.8 1569.3,152.1 1570.3,162 1571.4,152.9 1572.5,162.8 1573.6,155.5 1574.7,165.2 1575.8,155.4 1576.9,163.5 1578,149.5 1579.1,165.9 1580.2,153.6 1581.3,163 1582.4,154.1 1583.5,162.2 1584.5,151.2 1585.6,166.5 1586.7,157.5 1587.8,169.3 1588.9,156 1590,166.1 1591.1,157.6 1592.2,165.8 1593.3,158.1 1594.4,165.6 1595.5,156.9 1596.6,167.1 1597.7,151.7 1598.7,166.2 1599.8,155.4 1600.9,166.4 1602,157.3 1603.1,169.4 1604.2,158.1 1605.3,171.4 1606.4,160.5 1607.5,170.1 1608.6,161 1609.7,171 1610.8,158.5 1611.9,171.6 1612.9,159.4 1614,167.9 1615.1,159.8 1616.2,170.7 1617.3,156.9 1618.4,170.9 1619.5,157.7 1620.6,167.6 1621.7,160.3 1622.8,173.9 1623.9,161.5 1625,170.3 1626.1,162.1 1627.1,172.3 1628.2,164.1 1629.3,174.6 1630.4,162.6 1631.5,175.4 1632.6,164.8 1633.7,174 1634.8,165.8 1635.9,176 1637,165.5 1638.1,174.6 1639.2,164.2 1640.3,174.9 1641.3,163.4 1642.4,179.7 1643.5,169.5 1644.6,181.3 1645.7,169.4 1646.8,182.3 1647.9,169.2 1649,178.8 1650.1,170.3 1651.2,183.6 1652.3,171.7 1653.4,181.7 1654.5,174 1655.5,182.5 1656.6,172 1657.7,182.4 1658.8,174.9 1659.9,185.3 1661,177.6 1662.1,185 1663.2,172.7 1664.3,184.4 1665.4,174.8 1666.5,182.7 1667.6,176.8 1668.7,185.8 1669.7,176.9 1670.8,187.3 1671.9,179.5 1673,187.2 1674.1,176.5 1675.2,189 1676.3,181.4 1677.4,193.3 1678.5,182.8 1679.6,190.6 1680.7,179.3 1681.8,194.1 1682.9,184.7 1684,193.5 1685,186.5 1686.1,195.4 1687.2,186.5 1688.3,200 1689.4,188.1 1690.5,198.1 1691.6,186.8 1692.7,197.9 1693.8,184.1 1694.9,197 1696,190.4 1697.1,201.8 1698.2,191.4 1699.2,203.3 1700.3,193.1 1701.4,200.5 1702.5,192.4 1703.6,203.4 1704.7,191.5 1705.8,201.5 1706.9,193.7 1708,202.7 1709.1,194.5 1710.2,206.2 1711.3,194.8 1712.4,210 1713.4,199.8 1714.5,209.2 1715.6,200.7 1716.7,213.2 1717.8,200.6 1718.9,210.7 1720,200.1 1721.1,208.3 1722.2,199 1723.3,210.3 1724.4,198.6 1725.5,209 1726.6,201.8 1727.6,212.2 1728.7,202.7 1729.8,212.6 1730.9,206.1 1732,215.8 1733.1,204.1 1734.2,214.4 1735.3,201.5 1736.4,213.8 1737.5,206.8 1738.6,214.7 1739.7,202.6 1740.8,216.5 1741.8,206.7 1742.9,220.1 1744,209.9 1745.1,218.1 1746.2,206.2 1747.3,216.9 1748.4,210.7 1749.5,218.8 1750.6,211.9 1751.7,223.8 1752.8,213.7 1753.9,223.9 1755,213.8 1756,222.1 1757.1,214.4 1758.2,224.6 1759.3,218.2 1760.4,230.4 1761.5,219.4 1762.6,228 1763.7,214.5 1764.8,225.8 1765.9,217.7 1767,226 1768.1,217.7 1769.2,231.6 1770.2,218.1 1771.3,233.9 1772.4,223.5 1773.5,231.9 1774.6,220.8 1775.7,235.6 1776.8,225.5 1777.9,236.4 1779,226.1 1780.1,235.5 1781.2,225.7 1782.3,236.6 1783.4,227.4 1784.4,234.7 1785.5,227.8 1786.6,236.9 1787.7,230 1788.8,240.6 1789.9,229.4 1791,240.2 1792.1,230.6 1793.2,239.2 1794.3,230.7 1795.4,246 1796.5,233.9 1797.6,245.4 1798.6,235.5 1799.7,243.2 1800.8,234.6 1801.9,244.3 1803,234.5 1804.1,243.1 1805.2,236.1 1806.3,247.3 1807.4,233 1808.5,244.8 1809.6,237.6 1810.7,247 1811.8,235.3 1812.9,250.7 1813.9,238.5 1815,248.8 1816.1,238.9 1817.2,251.4 1818.3,240.2 1819.4,249.2 1820.5,238.7 1821.6,253.4 1822.7,243.6 1823.8,252 1824.9,245.9 1826,252.6 1827.1,242 1828.1,256.4 1829.2,246.4 1830.3,255.1 1831.4,247.9 1832.5,256.1 1833.6,248.1 1834.7,256.9 1835.8,250 1836.9,261.3 1838,248.1 1839.1,262.4 1840.2,252.2 1841.3,260.7 1842.3,251.5 1843.4,260.9 1844.5,253.2 1845.6,263.3 1846.7,251.8 1847.8,264.9 1848.9,254.2 1850,264.9 1851.1,254 1852.2,263 1853.3,251.6 1854.4,267.2 1855.5,256.8 1856.5,264.9 1857.6,256.4 1858.7,268 1859.8,254.3 1860.9,264.2 1862,252.1 1863.1,265.1 1864.2,253.1 1865.3,266.7 1866.4,255.2 1867.5,269.8 1868.6,259.1 1869.7,270.9 1870.7,259.7 1871.8,273.3 1872.9,264 1874,274.2 1875.1,265 1876.2,273.3 1877.3,266.1 1878.4,275.5 1879.5,264.5 1880.6,275.9 1881.7,269.6 1882.8,280.4 1883.9,267.1 1884.9,282.5 1886,268.5 1887.1,283.2 1888.2,271.3 1889.3,281.9 1890.4,270.7 1891.5,279.9 1892.6,271.2 1893.7,281.9 1894.8,274.4 1895.9,284.4 1897,272.9 1898.1,282.8 1899.1,274.8 1900.2,285.7 1901.3,274.5 1902.4,284.1 1903.5,274.8 1904.6,282.5 1905.7,275.8 1906.8,284.5 1907.9,274.5 1909,291.6 1910.1,280.2 1911.2,292.1 1912.3,281.8 1913.3,288.9 1914.4,276.9 1915.5,293.3 1916.6,284.4 1917.7,292.8 1918.8,285.3 1919.9,293.4 1921,285.9 1922.1,294.2 1923.2,284.3 1924.3,293 1925.4,284.4 1926.5,294 1927.5,286.5 1928.6,295.3 1929.7,285.6 1930.8,298.5 1931.9,286.9 1933,299.5 1934.1,290.1 1935.2,298 1936.3,289.1 1937.4,299.2 1938.5,291.9 1939.6,300.6 1940.7,291.8 1941.8,303.2 1942.8,293 1943.9,301.3 1945,294 1946.1,304.5 1947.2,294.7 1948.3,303.6 1949.4,296.2 1950.5,305.6 1951.6,296.9 1952.7,306.3 1953.8,300.1 1954.9,307.9 1956,298.9 1957,309.8 1958.1,298.8 1959.2,306.2 1960.3,296.7 1961.4,307.5 1962.5,301.5 1963.6,308.3 1964.7,300.4 1965.8,310.7 1966.9,302.8 1968,312.4 1969.1,301.5 1970.2,441.5 1971.2,477.1 1972.3,479 1973.4,441.5 1974.5,471.7 1975.6,483.7 1976.7,441.5 1977.8,473.3 1978.9,483.1 1980,441.5 1981.1,480.8 1982.2,482.4 1983.3,441.5 1984.4,470.7 1985.4,483 1986.5,441.5 1987.6,453.8 1988.7,475.2 1989.8,441.5 1990.9,465 1992,476.4" fill="none" stroke="#0072BD" stroke-width="2.8" stroke-linejoin="round" clip-path="url(#cpc)"/>
<polyline points="1490.9,212.6 1490.9,172.6 1491.7,179.9 1492.8,171.4 1493.9,182.6 1495,174.7 1496.1,185.1 1497.2,176.1 1498.2,185.9 1499.3,176.2 1500.4,185.6 1501.5,177.1 1502.6,191.2 1503.7,176.1 1504.8,189.6 1505.9,175.8 1507,188.7 1508.1,178.3 1509.2,188.2 1510.3,176.9 1511.4,188.3 1512.4,176.1 1513.5,185.8 1514.6,175.9 1515.7,185.6 1516.8,175.2 1517.9,188.4 1519,177.7 1520.1,193.1 1521.2,175.4 1522.3,185.9 1523.4,175.7 1524.5,183.8 1525.6,175.5 1526.6,185.2 1527.7,176.5 1528.8,184.8 1529.9,175.1 1531,188.6 1532.1,174.4 1533.2,184.2 1534.3,174.5 1535.4,189.4 1536.5,173.1 1537.6,182 1538.7,167.2 1539.8,185.5 1540.8,168.9 1541.9,181.5 1543,173.1 1544.1,183.7 1545.2,168.1 1546.3,184 1547.4,172.5 1548.5,181.8 1549.6,169.5 1550.7,180.2 1551.8,170 1552.9,180.6 1554,170.5 1555.1,179.5 1556.1,171.1 1557.2,180.8 1558.3,171.1 1559.4,181.3 1560.5,171.7 1561.6,181.6 1562.7,171.5 1563.8,181 1564.9,172.4 1566,181.4 1567.1,171.4 1568.2,186.4 1569.3,170.6 1570.3,183.4 1571.4,170.5 1572.5,182.3 1573.6,168.2 1574.7,180.8 1575.8,169.1 1576.9,179.3 1578,170 1579.1,184.1 1580.2,166.9 1581.3,185.9 1582.4,171.8 1583.5,182.7 1584.5,165.8 1585.6,179.7 1586.7,170.7 1587.8,182.7 1588.9,169.9 1590,184.5 1591.1,171.7 1592.2,182.8 1593.3,169.1 1594.4,177.8 1595.5,168.2 1596.6,180.5 1597.7,167.3 1598.7,180.4 1599.8,170.1 1600.9,182.3 1602,168.7 1603.1,180.3 1604.2,167.1 1605.3,177.8 1606.4,168.4 1607.5,177.7 1608.6,165.4 1609.7,178.6 1610.8,167.1 1611.9,182.1 1612.9,168.2 1614,177.9 1615.1,163.1 1616.2,179.6 1617.3,168 1618.4,182.6 1619.5,168.9 1620.6,179.3 1621.7,170.3 1622.8,182.3 1623.9,168.5 1625,178.5 1626.1,164.4 1627.1,180.5 1628.2,168.2 1629.3,177.5 1630.4,168.9 1631.5,179.5 1632.6,168.5 1633.7,179.1 1634.8,164.9 1635.9,180.7 1637,168.6 1638.1,181.2 1639.2,168.5 1640.3,181.2 1641.3,168.7 1642.4,177.1 1643.5,164 1644.6,176.3 1645.7,167.3 1646.8,179.4 1647.9,164.4 1649,177.1 1650.1,164.8 1651.2,176.9 1652.3,166.8 1653.4,176.7 1654.5,167 1655.5,180.4 1656.6,165.1 1657.7,175.2 1658.8,164.9 1659.9,179.4 1661,164.8 1662.1,176.2 1663.2,165.5 1664.3,177.9 1665.4,168.5 1666.5,181.2 1667.6,162.4 1668.7,176.7 1669.7,163.6 1670.8,178.8 1671.9,162.8 1673,172.7 1674.1,162.5 1675.2,174.9 1676.3,165.1 1677.4,176.9 1678.5,161.9 1679.6,180.7 1680.7,165.3 1681.8,174.2 1682.9,160.3 1684,179.5 1685,167.4 1686.1,180.8 1687.2,162.6 1688.3,176.9 1689.4,164.4 1690.5,174.8 1691.6,166.3 1692.7,175.5 1693.8,162 1694.9,175 1696,165.7 1697.1,174.6 1698.2,163.4 1699.2,177.7 1700.3,163.7 1701.4,174 1702.5,162 1703.6,174.6 1704.7,165.2 1705.8,171.9 1706.9,161.4 1708,170.1 1709.1,160 1710.2,170.5 1711.3,158.7 1712.4,172.8 1713.4,163.3 1714.5,176.3 1715.6,166.5 1716.7,177.4 1717.8,165.7 1718.9,180.9 1720,166.2 1721.1,176.6 1722.2,167.6 1723.3,183.4 1724.4,166.6 1725.5,179.2 1726.6,168.5 1727.6,179.6 1728.7,169 1729.8,182.6 1730.9,168.5 1732,177.6 1733.1,168 1734.2,177 1735.3,167.3 1736.4,177.5 1737.5,165.6 1738.6,179.2 1739.7,169.4 1740.8,179.1 1741.8,168.9 1742.9,178.8 1744,169.9 1745.1,178.6 1746.2,165.9 1747.3,184.9 1748.4,169.9 1749.5,178.5 1750.6,168.2 1751.7,178.8 1752.8,167.8 1753.9,177.2 1755,167 1756,180 1757.1,169 1758.2,179.7 1759.3,171 1760.4,180.9 1761.5,170.3 1762.6,180 1763.7,169.3 1764.8,182.5 1765.9,172.3 1767,183.5 1768.1,173.6 1769.2,181.7 1770.2,169.8 1771.3,185.2 1772.4,167.1 1773.5,182.1 1774.6,169.2 1775.7,180.1 1776.8,171.7 1777.9,186 1779,171.8 1780.1,181.8 1781.2,172.9 1782.3,181.6 1783.4,173 1784.4,183.3 1785.5,171.2 1786.6,186.1 1787.7,167.8 1788.8,181.9 1789.9,173.1 1791,183.3 1792.1,171.7 1793.2,184 1794.3,172.3 1795.4,183.8 1796.5,173.9 1797.6,184.6 1798.6,174.4 1799.7,189.2 1800.8,171.4 1801.9,182.9 1803,169.9 1804.1,183.9 1805.2,169.8 1806.3,187.6 1807.4,174.6 1808.5,184.4 1809.6,175.9 1810.7,185.8 1811.8,173 1812.9,184.8 1813.9,176 1815,188.9 1816.1,170.8 1817.2,186.9 1818.3,176.2 1819.4,185.4 1820.5,175.7 1821.6,189.4 1822.7,176.1 1823.8,187.3 1824.9,177.3 1826,188.7 1827.1,176.7 1828.1,191.6 1829.2,179.5 1830.3,187.7 1831.4,179.6 1832.5,194.1 1833.6,176.4 1834.7,190.4 1835.8,179.6 1836.9,191.5 1838,180.1 1839.1,195.4 1840.2,181.8 1841.3,192.9 1842.3,182.6 1843.4,192.9 1844.5,184.3 1845.6,196.5 1846.7,184.6 1847.8,196.3 1848.9,186.3 1850,195.5 1851.1,185.9 1852.2,196.2 1853.3,184.6 1854.4,196 1855.5,186.8 1856.5,199.2 1857.6,187.8 1858.7,204 1859.8,187.6 1860.9,197.8 1862,187.9 1863.1,196.9 1864.2,186.5 1865.3,197.9 1866.4,189.3 1867.5,201.6 1868.6,190.9 1869.7,203.9 1870.7,191.4 1871.8,199.7 1872.9,188.4 1874,201.1 1875.1,188.4 1876.2,201.1 1877.3,192.4 1878.4,205.3 1879.5,189.9 1880.6,205.6 1881.7,194.2 1882.8,205 1883.9,193.6 1884.9,202.7 1886,187.6 1887.1,202.1 1888.2,188 1889.3,203.9 1890.4,193.8 1891.5,206 1892.6,192 1893.7,209 1894.8,195.6 1895.9,211.9 1897,198.9 1898.1,213.8 1899.1,200.7 1900.2,208.7 1901.3,198.3 1902.4,213.4 1903.5,194.4 1904.6,208.7 1905.7,199.7 1906.8,215.8 1907.9,201.3 1909,211.7 1910.1,198.3 1911.2,210.8 1912.3,201.1 1913.3,212.9 1914.4,199.9 1915.5,219 1916.6,200.4 1917.7,215.6 1918.8,203.1 1919.9,219 1921,206.6 1922.1,219.8 1923.2,207.6 1924.3,217.7 1925.4,207.5 1926.5,216.8 1927.5,209.1 1928.6,219.9 1929.7,208.8 1930.8,221.7 1931.9,209 1933,217.5 1934.1,207.5 1935.2,221.3 1936.3,207.6 1937.4,218.7 1938.5,204.1 1939.6,219.6 1940.7,208.8 1941.8,218.5 1942.8,207.3 1943.9,220.1 1945,207.2 1946.1,223.2 1947.2,209.8 1948.3,228.1 1949.4,210.6 1950.5,226.4 1951.6,212.5 1952.7,224.5 1953.8,212.3 1954.9,224.8 1956,211.5 1957,231.6 1958.1,214 1959.2,227.7 1960.3,218.3 1961.4,229.8 1962.5,219.1 1963.6,228.1 1964.7,218.9 1965.8,228 1966.9,219.1 1968,228.5 1969.1,219.9 1970.2,441.5 1971.2,449.5 1972.3,447 1973.4,441.5 1974.5,432.1 1975.6,446.9 1976.7,441.5 1977.8,426.6 1978.9,447.9 1980,441.5 1981.1,425.9 1982.2,457.4 1983.3,441.5 1984.4,432.7 1985.4,455.1 1986.5,441.5 1987.6,431 1988.7,457.5 1989.8,441.5 1990.9,439.1 1992,457.5" fill="none" stroke="#FF0000" stroke-width="2.8" stroke-linejoin="round" clip-path="url(#cpc)"/>
<polyline points="1490.9,168.6 1490.9,87.3 1491.7,101.7 1492.8,82.7 1493.9,97.1 1495,77.3 1496.1,101.2 1497.2,80 1498.2,96.5 1499.3,81.1 1500.4,94.4 1501.5,74.9 1502.6,94.1 1503.7,79.9 1504.8,93.1 1505.9,76.5 1507,93.8 1508.1,79.4 1509.2,90.4 1510.3,79.8 1511.4,93.5 1512.4,77 1513.5,91.9 1514.6,76.6 1515.7,90.5 1516.8,80.1 1517.9,93.5 1519,74.1 1520.1,95.9 1521.2,76.3 1522.3,90.2 1523.4,69.5 1524.5,87.7 1525.6,69.2 1526.6,93.4 1527.7,75.2 1528.8,92.3 1529.9,79.6 1531,95.3 1532.1,79.5 1533.2,95.9 1534.3,82 1535.4,95.2 1536.5,83.1 1537.6,95.3 1538.7,72.4 1539.8,91.7 1540.8,72.4 1541.9,91.3 1543,78.5 1544.1,91.9 1545.2,72.9 1546.3,91.5 1547.4,79.5 1548.5,97.1 1549.6,81.7 1550.7,95.3 1551.8,79.5 1552.9,93.7 1554,75.9 1555.1,94.4 1556.1,72.8 1557.2,93.9 1558.3,77 1559.4,98.1 1560.5,77.4 1561.6,94.9 1562.7,81.5 1563.8,101.6 1564.9,81.1 1566,102.9 1567.1,75.1 1568.2,100.8 1569.3,79.8 1570.3,99.6 1571.4,81.7 1572.5,94.6 1573.6,76.3 1574.7,100 1575.8,79.8 1576.9,106.9 1578,78.7 1579.1,97.8 1580.2,84.4 1581.3,100.4 1582.4,81 1583.5,100.3 1584.5,85 1585.6,96.7 1586.7,76.6 1587.8,97.1 1588.9,80.4 1590,103.9 1591.1,81.3 1592.2,98.4 1593.3,87.2 1594.4,108.8 1595.5,90.3 1596.6,109.8 1597.7,85.4 1598.7,109.2 1599.8,87.6 1600.9,100.6 1602,88.1 1603.1,99.5 1604.2,85.1 1605.3,99.1 1606.4,88.7 1607.5,100 1608.6,87.5 1609.7,100.3 1610.8,87.8 1611.9,101.5 1612.9,89.5 1614,102.4 1615.1,89.2 1616.2,100.9 1617.3,86.6 1618.4,98.8 1619.5,84.9 1620.6,103.7 1621.7,85.4 1622.8,102.2 1623.9,89.1 1625,110.8 1626.1,87.5 1627.1,105.1 1628.2,92 1629.3,104.5 1630.4,86.7 1631.5,112.7 1632.6,90.5 1633.7,108.1 1634.8,85.9 1635.9,110.6 1637,89.7 1638.1,111.4 1639.2,86.2 1640.3,104 1641.3,89.5 1642.4,110.1 1643.5,83.6 1644.6,105 1645.7,94.2 1646.8,111.8 1647.9,95.4 1649,106.4 1650.1,91.2 1651.2,114.8 1652.3,88.8 1653.4,111.3 1654.5,88.9 1655.5,116.8 1656.6,93.3 1657.7,112.7 1658.8,89.3 1659.9,114.6 1661,89.8 1662.1,110.8 1663.2,95.3 1664.3,108.7 1665.4,96.3 1666.5,109.8 1667.6,99.7 1668.7,117.5 1669.7,99.1 1670.8,115.9 1671.9,99.8 1673,115.1 1674.1,103 1675.2,116.3 1676.3,101.8 1677.4,121.7 1678.5,102.9 1679.6,114.4 1680.7,95.7 1681.8,119.3 1682.9,101.6 1684,118.7 1685,104.8 1686.1,118.5 1687.2,104.5 1688.3,119.8 1689.4,106 1690.5,119.1 1691.6,99.9 1692.7,121.9 1693.8,109.5 1694.9,130.7 1696,107.9 1697.1,124.1 1698.2,101.7 1699.2,126.8 1700.3,110.3 1701.4,132.1 1702.5,108.7 1703.6,132.9 1704.7,108.1 1705.8,131.3 1706.9,104.6 1708,124.5 1709.1,110.1 1710.2,125.2 1711.3,112.9 1712.4,128.9 1713.4,115.4 1714.5,134.9 1715.6,117.7 1716.7,134 1717.8,113.8 1718.9,129.6 1720,119.2 1721.1,131.8 1722.2,116.8 1723.3,140.6 1724.4,115.7 1725.5,134.9 1726.6,122.9 1727.6,140.3 1728.7,120 1729.8,133.5 1730.9,121.8 1732,135.3 1733.1,117.4 1734.2,142.7 1735.3,120.5 1736.4,135.8 1737.5,123.3 1738.6,137.8 1739.7,123.4 1740.8,137.6 1741.8,123.2 1742.9,146.2 1744,118.4 1745.1,143 1746.2,122.3 1747.3,139.7 1748.4,128.2 1749.5,143.1 1750.6,129.4 1751.7,148 1752.8,127.8 1753.9,150.2 1755,121.7 1756,148.9 1757.1,132.6 1758.2,144.6 1759.3,134.5 1760.4,151.6 1761.5,135.3 1762.6,146.6 1763.7,136 1764.8,148.8 1765.9,128.6 1767,154.3 1768.1,132.2 1769.2,149.5 1770.2,132 1771.3,153.9 1772.4,131.9 1773.5,156.7 1774.6,140.6 1775.7,153.1 1776.8,131.2 1777.9,151.1 1779,133.8 1780.1,151.8 1781.2,141 1782.3,161.1 1783.4,139.9 1784.4,153.4 1785.5,142.4 1786.6,160.7 1787.7,142.4 1788.8,155.2 1789.9,145.3 1791,160.1 1792.1,137.3 1793.2,159.3 1794.3,148.1 1795.4,159.9 1796.5,147.8 1797.6,166.8 1798.6,142.9 1799.7,165.6 1800.8,147.3 1801.9,170.2 1803,143.4 1804.1,169.8 1805.2,150 1806.3,165.5 1807.4,142.8 1808.5,162.7 1809.6,151.4 1810.7,165.2 1811.8,147.3 1812.9,165.5 1813.9,145.5 1815,172.1 1816.1,151.1 1817.2,166.4 1818.3,151.7 1819.4,172.6 1820.5,158 1821.6,175.9 1822.7,156.3 1823.8,174.2 1824.9,155.2 1826,171.9 1827.1,158 1828.1,170.6 1829.2,159.7 1830.3,177.7 1831.4,161.3 1832.5,176.4 1833.6,161.6 1834.7,174 1835.8,158.1 1836.9,172.1 1838,161.4 1839.1,178.6 1840.2,156.5 1841.3,175.6 1842.3,159.4 1843.4,174.3 1844.5,161.7 1845.6,178.3 1846.7,166.3 1847.8,179.5 1848.9,169 1850,184.2 1851.1,165.7 1852.2,187.2 1853.3,160.5 1854.4,185.1 1855.5,166.6 1856.5,180.8 1857.6,165.6 1858.7,186.4 1859.8,168.5 1860.9,186.1 1862,171.9 1863.1,184.1 1864.2,172.6 1865.3,185.8 1866.4,175.3 1867.5,189 1868.6,167.8 1869.7,187.8 1870.7,169.3 1871.8,189.4 1872.9,169.7 1874,197.9 1875.1,180.4 1876.2,194.1 1877.3,172.5 1878.4,197.7 1879.5,179.4 1880.6,193.6 1881.7,180.2 1882.8,194.4 1883.9,179.2 1884.9,194.6 1886,176.4 1887.1,200.1 1888.2,176.3 1889.3,195.6 1890.4,184.5 1891.5,199.9 1892.6,185.6 1893.7,198.4 1894.8,187.6 1895.9,198.7 1897,183.3 1898.1,201.6 1899.1,191.2 1900.2,203 1901.3,185.3 1902.4,203.2 1903.5,185.4 1904.6,206.2 1905.7,184.5 1906.8,213.1 1907.9,186.3 1909,207.2 1910.1,190.9 1911.2,209.9 1912.3,194.2 1913.3,207.3 1914.4,192.5 1915.5,205.9 1916.6,187.4 1917.7,205.8 1918.8,194.1 1919.9,212.4 1921,195.2 1922.1,214.2 1923.2,190.5 1924.3,216.3 1925.4,199.4 1926.5,212 1927.5,198.1 1928.6,212.5 1929.7,200 1930.8,213.5 1931.9,200.3 1933,218 1934.1,202.6 1935.2,216.5 1936.3,197 1937.4,221.7 1938.5,202.8 1939.6,223.5 1940.7,203 1941.8,216.9 1942.8,205.6 1943.9,226 1945,206.5 1946.1,220.1 1947.2,206.8 1948.3,218.2 1949.4,204.8 1950.5,218 1951.6,205.9 1952.7,221.7 1953.8,206 1954.9,222 1956,207.7 1957,222.2 1958.1,207 1959.2,224 1960.3,208.6 1961.4,231.1 1962.5,211.2 1963.6,231.8 1964.7,212.2 1965.8,227.3 1966.9,213.9 1968,225.4 1969.1,208 1970.2,441.5 1971.2,416.5 1972.3,414.5 1973.4,441.5 1974.5,411.9 1975.6,419.5 1976.7,441.5 1977.8,399.7 1978.9,420.4 1980,441.5 1981.1,403 1982.2,421.5 1983.3,441.5 1984.4,407.7 1985.4,421.2 1986.5,441.5 1987.6,409.7 1988.7,412.9 1989.8,415.2 1990.9,398.2 1992,378.5" fill="none" stroke="#000000" stroke-width="2.8" stroke-linejoin="round" clip-path="url(#cpc)"/>
<text transform="translate(1490.6 460.3)" font-size="31.4" text-anchor="middle" stroke="#000">0</text>
<text transform="translate(1538.4 460.3)" font-size="31.4" text-anchor="middle" stroke="#000">10</text>
<text transform="translate(1586.1 460.3)" font-size="31.4" text-anchor="middle" stroke="#000">20</text>
<text transform="translate(1633.9 460.3)" font-size="31.4" text-anchor="middle" stroke="#000">30</text>
<text transform="translate(1681.6 460.3)" font-size="31.4" text-anchor="middle" stroke="#000">40</text>
<text transform="translate(1729.4 460.3)" font-size="31.4" text-anchor="middle" stroke="#000">50</text>
<text transform="translate(1777.1 460.3)" font-size="31.4" text-anchor="middle" stroke="#000">60</text>
<text transform="translate(1824.9 460.3)" font-size="31.4" text-anchor="middle" stroke="#000">70</text>
<text transform="translate(1872.6 460.3)" font-size="31.4" text-anchor="middle" stroke="#000">80</text>
<text transform="translate(1920.4 460.3)" font-size="31.4" text-anchor="middle" stroke="#000">90</text>
<text transform="translate(1968.1 460.3)" font-size="31.4" text-anchor="middle" stroke="#000">100</text>
<text transform="translate(1478.5 432.8)" font-size="31.4" text-anchor="end" stroke="#000">−5</text>
<text transform="translate(1478.5 367.2)" font-size="31.4" text-anchor="end" stroke="#000">0</text>
<text transform="translate(1478.5 301.6)" font-size="31.4" text-anchor="end" stroke="#000">5</text>
<text transform="translate(1478.5 236.1)" font-size="31.4" text-anchor="end" stroke="#000">10</text>
<text transform="translate(1478.5 170.5)" font-size="31.4" text-anchor="end" stroke="#000">15</text>
<text transform="translate(1478.5 104.9)" font-size="31.4" text-anchor="end" stroke="#000">20</text>
<text transform="translate(1478.5 39.3)" font-size="31.4" text-anchor="end" stroke="#000">25</text>
<text transform="translate(1740 504.7)" font-size="35.5" text-anchor="middle" stroke="#000">Distance (km)</text>
<text transform="translate(1417.6 225) rotate(-90)" font-size="35.5" text-anchor="middle" stroke="#000">SNR (dB)</text>
<path d="M1511 312.8H1547" stroke="#0072BD" stroke-width="3.6" fill="none"/>
<text transform="translate(1559.5 322.4)" font-size="27.2" stroke="#000">Single pulse, 1024 avgs</text>
<path d="M1511 349.1H1547" stroke="#FF0000" stroke-width="3.6" fill="none"/>
<text transform="translate(1559.5 358.7)" font-size="27.2" stroke="#000">GO code, 1024 avgs</text>
<path d="M1511 385.3H1547" stroke="#000000" stroke-width="3.6" fill="none"/>
<text transform="translate(1559.5 394.9)" font-size="27.2" stroke="#000">Single pulse, 17,795 avgs</text>
<path d="M305.5 580.2V973.5M471.8 580.2V973.5M139.1 917.3H638.2M139.1 861.1H638.2M139.1 804.9H638.2M139.1 748.7H638.2M139.1 692.6H638.2M139.1 636.4H638.2" stroke="#d6d6d6" stroke-width="1.1" fill="none"/>
<path d="M139.1 973.5v-5.5M139.1 580.2v5.5M305.5 973.5v-5.5M305.5 580.2v5.5M471.8 973.5v-5.5M471.8 580.2v5.5M638.2 973.5v-5.5M638.2 580.2v5.5M139.1 973.5h5.5M638.2 973.5h-5.5M139.1 917.3h5.5M638.2 917.3h-5.5M139.1 861.1h5.5M638.2 861.1h-5.5M139.1 804.9h5.5M638.2 804.9h-5.5M139.1 748.7h5.5M638.2 748.7h-5.5M139.1 692.6h5.5M638.2 692.6h-5.5M139.1 636.4h5.5M638.2 636.4h-5.5M139.1 580.2h5.5M638.2 580.2h-5.5" stroke="#303030" stroke-width="1.3" fill="none"/>
<rect x="139.1" y="580.2" width="499.1" height="393.2" fill="none" stroke="#303030" stroke-width="1.5"/>
<polyline points="134.4,908.8 141.3,911.8 148.1,918.5 155,921.5 161.8,928.3 168.6,950.4 175.5,962.1 182.3,954.3 189.1,937.8 196,924.9 202.8,919.7 209.7,916.3 216.5,917 223.3,920.8 230.2,927.9 237,932.8 243.8,933.6 250.7,930.6 257.5,926.8 264.3,917.8 271.2,903.5 278,899.3 284.8,907.3 291.7,916.3 298.5,924.3 305.3,924.9 312.2,928.3 319,936.3 325.8,945.3 332.7,944.4 339.5,929.8 346.4,915.5 353.2,902.8 360,898.7 366.9,900.5 373.7,904.3 380.5,906.5 387.4,904.3 394.2,898.3 401,890.5 407.9,891.2 414.7,901.7 421.5,908 428.4,901.3 435.2,862.3 442,785.4 448.9,731.2 455.7,709.8 462.5,707.3 469.4,716.6 476.2,714 483.1,706.3 489.9,703.7 496.7,710.5 503.6,723.9 510.4,732.4 517.2,748.3 524.1,802 530.9,883.7 537.7,923.4 544.6,922 551.4,906.8 558.2,894.1 565.1,894.6 571.9,894.1 578.7,899.5 585.6,915.4 592.4,928.8 599.2,921.5 606.1,915.4 612.9,916.6 619.8,915.4 626.6,908.8 633.4,904.9 640.3,909.3 647.1,912" fill="none" stroke="#0072BD" stroke-width="3.1" stroke-linejoin="round" clip-path="url(#cpd)"/>
<g fill="#0072BD" clip-path="url(#cpd)"><circle cx="134.4" cy="908.8" r="3.1"/><circle cx="141.3" cy="911.8" r="3.1"/><circle cx="148.1" cy="918.5" r="3.1"/><circle cx="155" cy="921.5" r="3.1"/><circle cx="161.8" cy="928.3" r="3.1"/><circle cx="168.6" cy="950.4" r="3.1"/><circle cx="175.5" cy="962.1" r="3.1"/><circle cx="182.3" cy="954.3" r="3.1"/><circle cx="189.1" cy="937.8" r="3.1"/><circle cx="196" cy="924.9" r="3.1"/><circle cx="202.8" cy="919.7" r="3.1"/><circle cx="209.7" cy="916.3" r="3.1"/><circle cx="216.5" cy="917" r="3.1"/><circle cx="223.3" cy="920.8" r="3.1"/><circle cx="230.2" cy="927.9" r="3.1"/><circle cx="237" cy="932.8" r="3.1"/><circle cx="243.8" cy="933.6" r="3.1"/><circle cx="250.7" cy="930.6" r="3.1"/><circle cx="257.5" cy="926.8" r="3.1"/><circle cx="264.3" cy="917.8" r="3.1"/><circle cx="271.2" cy="903.5" r="3.1"/><circle cx="278" cy="899.3" r="3.1"/><circle cx="284.8" cy="907.3" r="3.1"/><circle cx="291.7" cy="916.3" r="3.1"/><circle cx="298.5" cy="924.3" r="3.1"/><circle cx="305.3" cy="924.9" r="3.1"/><circle cx="312.2" cy="928.3" r="3.1"/><circle cx="319" cy="936.3" r="3.1"/><circle cx="325.8" cy="945.3" r="3.1"/><circle cx="332.7" cy="944.4" r="3.1"/><circle cx="339.5" cy="929.8" r="3.1"/><circle cx="346.4" cy="915.5" r="3.1"/><circle cx="353.2" cy="902.8" r="3.1"/><circle cx="360" cy="898.7" r="3.1"/><circle cx="366.9" cy="900.5" r="3.1"/><circle cx="373.7" cy="904.3" r="3.1"/><circle cx="380.5" cy="906.5" r="3.1"/><circle cx="387.4" cy="904.3" r="3.1"/><circle cx="394.2" cy="898.3" r="3.1"/><circle cx="401" cy="890.5" r="3.1"/><circle cx="407.9" cy="891.2" r="3.1"/><circle cx="414.7" cy="901.7" r="3.1"/><circle cx="421.5" cy="908" r="3.1"/><circle cx="428.4" cy="901.3" r="3.1"/><circle cx="435.2" cy="862.3" r="3.1"/><circle cx="442" cy="785.4" r="3.1"/><circle cx="448.9" cy="731.2" r="3.1"/><circle cx="455.7" cy="709.8" r="3.1"/><circle cx="462.5" cy="707.3" r="3.1"/><circle cx="469.4" cy="716.6" r="3.1"/><circle cx="476.2" cy="714" r="3.1"/><circle cx="483.1" cy="706.3" r="3.1"/><circle cx="489.9" cy="703.7" r="3.1"/><circle cx="496.7" cy="710.5" r="3.1"/><circle cx="503.6" cy="723.9" r="3.1"/><circle cx="510.4" cy="732.4" r="3.1"/><circle cx="517.2" cy="748.3" r="3.1"/><circle cx="524.1" cy="802" r="3.1"/><circle cx="530.9" cy="883.7" r="3.1"/><circle cx="537.7" cy="923.4" r="3.1"/><circle cx="544.6" cy="922" r="3.1"/><circle cx="551.4" cy="906.8" r="3.1"/><circle cx="558.2" cy="894.1" r="3.1"/><circle cx="565.1" cy="894.6" r="3.1"/><circle cx="571.9" cy="894.1" r="3.1"/><circle cx="578.7" cy="899.5" r="3.1"/><circle cx="585.6" cy="915.4" r="3.1"/><circle cx="592.4" cy="928.8" r="3.1"/><circle cx="599.2" cy="921.5" r="3.1"/><circle cx="606.1" cy="915.4" r="3.1"/><circle cx="612.9" cy="916.6" r="3.1"/><circle cx="619.8" cy="915.4" r="3.1"/><circle cx="626.6" cy="908.8" r="3.1"/><circle cx="633.4" cy="904.9" r="3.1"/><circle cx="640.3" cy="909.3" r="3.1"/><circle cx="647.1" cy="912" r="3.1"/></g>
<polyline points="134.4,919.3 141.3,919.3 148.1,920 155,920.8 161.8,920 168.6,918.5 175.5,917 182.3,915.5 189.1,915.5 196,917 202.8,918.2 209.7,915.5 216.5,913.3 223.3,913.3 230.2,916.3 237,918.5 243.8,918.5 250.7,917.8 257.5,916.7 264.3,914.8 271.2,912.5 278,911.8 284.8,913.3 291.7,915.5 298.5,917 305.3,917.8 312.2,919.3 319,919.3 325.8,917 332.7,914.8 339.5,914.8 346.4,915.5 353.2,915.8 360,916.3 366.9,915.5 373.7,913.3 380.5,908 387.4,909.5 394.2,915.6 401,918.5 407.9,924.2 414.7,923.3 421.5,913.3 428.4,899.8 435.2,864.5 442,812 448.9,740 455.7,714.5 462.5,711 469.4,712.5 476.2,713.5 483.1,709 489.9,705.3 496.7,704.8 503.6,706 510.4,718 517.2,752 524.1,795 530.9,875 537.7,908 544.6,916.5 551.4,917.6 558.2,917 565.1,917 571.9,916.7 578.7,915.5 585.6,912.2 592.4,911.5 599.2,911.5 606.1,912.2 612.9,912.2 619.8,912.5 626.6,912.2 633.4,911.5 640.3,911.5 647.1,911.5" fill="none" stroke="#FF0000" stroke-width="3.1" stroke-linejoin="round" clip-path="url(#cpd)"/>
<g fill="#FF0000" clip-path="url(#cpd)"><circle cx="134.4" cy="919.3" r="3.1"/><circle cx="141.3" cy="919.3" r="3.1"/><circle cx="148.1" cy="920" r="3.1"/><circle cx="155" cy="920.8" r="3.1"/><circle cx="161.8" cy="920" r="3.1"/><circle cx="168.6" cy="918.5" r="3.1"/><circle cx="175.5" cy="917" r="3.1"/><circle cx="182.3" cy="915.5" r="3.1"/><circle cx="189.1" cy="915.5" r="3.1"/><circle cx="196" cy="917" r="3.1"/><circle cx="202.8" cy="918.2" r="3.1"/><circle cx="209.7" cy="915.5" r="3.1"/><circle cx="216.5" cy="913.3" r="3.1"/><circle cx="223.3" cy="913.3" r="3.1"/><circle cx="230.2" cy="916.3" r="3.1"/><circle cx="237" cy="918.5" r="3.1"/><circle cx="243.8" cy="918.5" r="3.1"/><circle cx="250.7" cy="917.8" r="3.1"/><circle cx="257.5" cy="916.7" r="3.1"/><circle cx="264.3" cy="914.8" r="3.1"/><circle cx="271.2" cy="912.5" r="3.1"/><circle cx="278" cy="911.8" r="3.1"/><circle cx="284.8" cy="913.3" r="3.1"/><circle cx="291.7" cy="915.5" r="3.1"/><circle cx="298.5" cy="917" r="3.1"/><circle cx="305.3" cy="917.8" r="3.1"/><circle cx="312.2" cy="919.3" r="3.1"/><circle cx="319" cy="919.3" r="3.1"/><circle cx="325.8" cy="917" r="3.1"/><circle cx="332.7" cy="914.8" r="3.1"/><circle cx="339.5" cy="914.8" r="3.1"/><circle cx="346.4" cy="915.5" r="3.1"/><circle cx="353.2" cy="915.8" r="3.1"/><circle cx="360" cy="916.3" r="3.1"/><circle cx="366.9" cy="915.5" r="3.1"/><circle cx="373.7" cy="913.3" r="3.1"/><circle cx="380.5" cy="908" r="3.1"/><circle cx="387.4" cy="909.5" r="3.1"/><circle cx="394.2" cy="915.6" r="3.1"/><circle cx="401" cy="918.5" r="3.1"/><circle cx="407.9" cy="924.2" r="3.1"/><circle cx="414.7" cy="923.3" r="3.1"/><circle cx="421.5" cy="913.3" r="3.1"/><circle cx="428.4" cy="899.8" r="3.1"/><circle cx="435.2" cy="864.5" r="3.1"/><circle cx="442" cy="812" r="3.1"/><circle cx="448.9" cy="740" r="3.1"/><circle cx="455.7" cy="714.5" r="3.1"/><circle cx="462.5" cy="711" r="3.1"/><circle cx="469.4" cy="712.5" r="3.1"/><circle cx="476.2" cy="713.5" r="3.1"/><circle cx="483.1" cy="709" r="3.1"/><circle cx="489.9" cy="705.3" r="3.1"/><circle cx="496.7" cy="704.8" r="3.1"/><circle cx="503.6" cy="706" r="3.1"/><circle cx="510.4" cy="718" r="3.1"/><circle cx="517.2" cy="752" r="3.1"/><circle cx="524.1" cy="795" r="3.1"/><circle cx="530.9" cy="875" r="3.1"/><circle cx="537.7" cy="908" r="3.1"/><circle cx="544.6" cy="916.5" r="3.1"/><circle cx="551.4" cy="917.6" r="3.1"/><circle cx="558.2" cy="917" r="3.1"/><circle cx="565.1" cy="917" r="3.1"/><circle cx="571.9" cy="916.7" r="3.1"/><circle cx="578.7" cy="915.5" r="3.1"/><circle cx="585.6" cy="912.2" r="3.1"/><circle cx="592.4" cy="911.5" r="3.1"/><circle cx="599.2" cy="911.5" r="3.1"/><circle cx="606.1" cy="912.2" r="3.1"/><circle cx="612.9" cy="912.2" r="3.1"/><circle cx="619.8" cy="912.5" r="3.1"/><circle cx="626.6" cy="912.2" r="3.1"/><circle cx="633.4" cy="911.5" r="3.1"/><circle cx="640.3" cy="911.5" r="3.1"/><circle cx="647.1" cy="911.5" r="3.1"/></g>
<polyline points="134.4,917 141.3,917 148.1,916.3 155,916.7 161.8,917 168.6,915.8 175.5,913.7 182.3,912.2 189.1,912.2 196,912.8 202.8,914 209.7,918.5 216.5,920.5 223.3,918.5 230.2,916.3 237,917 243.8,918.2 250.7,915.5 257.5,911.5 264.3,908.8 271.2,911.8 278,914.8 284.8,920.5 291.7,919.3 298.5,915.8 305.3,912.5 312.2,911.8 319,912.8 325.8,916.3 332.7,917 339.5,914.8 346.4,911.8 353.2,911.5 360,912.2 366.9,912.2 373.7,911.8 380.5,915.6 387.4,920.5 394.2,921 401,918.8 407.9,919.3 414.7,917.8 421.5,908.8 428.4,896.8 435.2,862.3 442,820.2 448.9,746.6 455.7,720.2 462.5,711.7 469.4,712.2 476.2,711.2 483.1,708.8 489.9,705.1 496.7,705.1 503.6,708.8 510.4,718.5 517.2,745.9 524.1,784.9 530.9,861 537.7,901.2 544.6,911 551.4,913.3 558.2,913 565.1,914 571.9,915.5 578.7,915.5 585.6,914.8 592.4,914.3 599.2,913.3 606.1,914.3 612.9,914.8 619.8,915.5 626.6,916.3 633.4,917 640.3,918.5 647.1,918.5" fill="none" stroke="#000000" stroke-width="3.1" stroke-linejoin="round" clip-path="url(#cpd)"/>
<g fill="#000000" clip-path="url(#cpd)"><circle cx="134.4" cy="917" r="3.1"/><circle cx="141.3" cy="917" r="3.1"/><circle cx="148.1" cy="916.3" r="3.1"/><circle cx="155" cy="916.7" r="3.1"/><circle cx="161.8" cy="917" r="3.1"/><circle cx="168.6" cy="915.8" r="3.1"/><circle cx="175.5" cy="913.7" r="3.1"/><circle cx="182.3" cy="912.2" r="3.1"/><circle cx="189.1" cy="912.2" r="3.1"/><circle cx="196" cy="912.8" r="3.1"/><circle cx="202.8" cy="914" r="3.1"/><circle cx="209.7" cy="918.5" r="3.1"/><circle cx="216.5" cy="920.5" r="3.1"/><circle cx="223.3" cy="918.5" r="3.1"/><circle cx="230.2" cy="916.3" r="3.1"/><circle cx="237" cy="917" r="3.1"/><circle cx="243.8" cy="918.2" r="3.1"/><circle cx="250.7" cy="915.5" r="3.1"/><circle cx="257.5" cy="911.5" r="3.1"/><circle cx="264.3" cy="908.8" r="3.1"/><circle cx="271.2" cy="911.8" r="3.1"/><circle cx="278" cy="914.8" r="3.1"/><circle cx="284.8" cy="920.5" r="3.1"/><circle cx="291.7" cy="919.3" r="3.1"/><circle cx="298.5" cy="915.8" r="3.1"/><circle cx="305.3" cy="912.5" r="3.1"/><circle cx="312.2" cy="911.8" r="3.1"/><circle cx="319" cy="912.8" r="3.1"/><circle cx="325.8" cy="916.3" r="3.1"/><circle cx="332.7" cy="917" r="3.1"/><circle cx="339.5" cy="914.8" r="3.1"/><circle cx="346.4" cy="911.8" r="3.1"/><circle cx="353.2" cy="911.5" r="3.1"/><circle cx="360" cy="912.2" r="3.1"/><circle cx="366.9" cy="912.2" r="3.1"/><circle cx="373.7" cy="911.8" r="3.1"/><circle cx="380.5" cy="915.6" r="3.1"/><circle cx="387.4" cy="920.5" r="3.1"/><circle cx="394.2" cy="921" r="3.1"/><circle cx="401" cy="918.8" r="3.1"/><circle cx="407.9" cy="919.3" r="3.1"/><circle cx="414.7" cy="917.8" r="3.1"/><circle cx="421.5" cy="908.8" r="3.1"/><circle cx="428.4" cy="896.8" r="3.1"/><circle cx="435.2" cy="862.3" r="3.1"/><circle cx="442" cy="820.2" r="3.1"/><circle cx="448.9" cy="746.6" r="3.1"/><circle cx="455.7" cy="720.2" r="3.1"/><circle cx="462.5" cy="711.7" r="3.1"/><circle cx="469.4" cy="712.2" r="3.1"/><circle cx="476.2" cy="711.2" r="3.1"/><circle cx="483.1" cy="708.8" r="3.1"/><circle cx="489.9" cy="705.1" r="3.1"/><circle cx="496.7" cy="705.1" r="3.1"/><circle cx="503.6" cy="708.8" r="3.1"/><circle cx="510.4" cy="718.5" r="3.1"/><circle cx="517.2" cy="745.9" r="3.1"/><circle cx="524.1" cy="784.9" r="3.1"/><circle cx="530.9" cy="861" r="3.1"/><circle cx="537.7" cy="901.2" r="3.1"/><circle cx="544.6" cy="911" r="3.1"/><circle cx="551.4" cy="913.3" r="3.1"/><circle cx="558.2" cy="913" r="3.1"/><circle cx="565.1" cy="914" r="3.1"/><circle cx="571.9" cy="915.5" r="3.1"/><circle cx="578.7" cy="915.5" r="3.1"/><circle cx="585.6" cy="914.8" r="3.1"/><circle cx="592.4" cy="914.3" r="3.1"/><circle cx="599.2" cy="913.3" r="3.1"/><circle cx="606.1" cy="914.3" r="3.1"/><circle cx="612.9" cy="914.8" r="3.1"/><circle cx="619.8" cy="915.5" r="3.1"/><circle cx="626.6" cy="916.3" r="3.1"/><circle cx="633.4" cy="917" r="3.1"/><circle cx="640.3" cy="918.5" r="3.1"/><circle cx="647.1" cy="918.5" r="3.1"/></g>
<text transform="translate(139.1 1012)" font-size="31.4" text-anchor="middle" stroke="#000">100.25</text>
<text transform="translate(305.5 1012)" font-size="31.4" text-anchor="middle" stroke="#000">100.26</text>
<text transform="translate(471.8 1012)" font-size="31.4" text-anchor="middle" stroke="#000">100.27</text>
<text transform="translate(638.2 1012)" font-size="31.4" text-anchor="middle" stroke="#000">100.28</text>
<text transform="translate(127 984.5)" font-size="31.4" text-anchor="end" stroke="#000">10.98</text>
<text transform="translate(127 928.3)" font-size="31.4" text-anchor="end" stroke="#000">10.99</text>
<text transform="translate(127 872.1)" font-size="31.4" text-anchor="end" stroke="#000">11</text>
<text transform="translate(127 815.9)" font-size="31.4" text-anchor="end" stroke="#000">11.01</text>
<text transform="translate(127 759.7)" font-size="31.4" text-anchor="end" stroke="#000">11.02</text>
<text transform="translate(127 703.6)" font-size="31.4" text-anchor="end" stroke="#000">11.03</text>
<text transform="translate(127 647.4)" font-size="31.4" text-anchor="end" stroke="#000">11.04</text>
<text transform="translate(127 591.2)" font-size="31.4" text-anchor="end" stroke="#000">11.05</text>
<text transform="translate(388.7 1058.6)" font-size="35.5" text-anchor="middle" stroke="#000">Distance (km)</text>
<text transform="translate(25 777.3) rotate(-90) scale(1.005 1)" font-size="35.5" text-anchor="middle" stroke="#000">BFS (GHz)</text>
<path d="M149.5 601.9H199" stroke="#0072BD" stroke-width="3.3" fill="none"/>
<circle cx="174.3" cy="601.9" r="3.1" fill="#0072BD"/>
<text transform="translate(210.8 610.9)" font-size="26.8" stroke="#000">Single pulse, 1024 avgs</text>
<path d="M149.5 639.9H199" stroke="#FF0000" stroke-width="3.3" fill="none"/>
<circle cx="174.3" cy="639.9" r="3.1" fill="#FF0000"/>
<text transform="translate(210.8 648.9)" font-size="26.8" stroke="#000">GO code,1024 avgs</text>
<path d="M149.5 678H199" stroke="#000000" stroke-width="3.3" fill="none"/>
<circle cx="174.3" cy="678" r="3.1" fill="#000000"/>
<text transform="translate(210.8 687)" font-size="26.8" stroke="#000">Single pulse, 17,795 avgs</text>
<path d="M876 579.9V973.5M926 579.9V973.5M975.9 579.9V973.5M1025.9 579.9V973.5M1075.8 579.9V973.5M1125.7 579.9V973.5M1175.7 579.9V973.5M1225.6 579.9V973.5M1275.6 579.9V973.5M826.1 924.3H1325.5M826.1 875.1H1325.5M826.1 825.9H1325.5M826.1 776.7H1325.5M826.1 727.5H1325.5M826.1 678.3H1325.5M826.1 629.1H1325.5" stroke="#d6d6d6" stroke-width="1.1" fill="none"/>
<path d="M826.1 973.5v-5.5M826.1 579.9v5.5M876 973.5v-5.5M876 579.9v5.5M926 973.5v-5.5M926 579.9v5.5M975.9 973.5v-5.5M975.9 579.9v5.5M1025.9 973.5v-5.5M1025.9 579.9v5.5M1075.8 973.5v-5.5M1075.8 579.9v5.5M1125.7 973.5v-5.5M1125.7 579.9v5.5M1175.7 973.5v-5.5M1175.7 579.9v5.5M1225.6 973.5v-5.5M1225.6 579.9v5.5M1275.6 973.5v-5.5M1275.6 579.9v5.5M1325.5 973.5v-5.5M1325.5 579.9v5.5M826.1 973.5h5.5M1325.5 973.5h-5.5M826.1 924.3h5.5M1325.5 924.3h-5.5M826.1 875.1h5.5M1325.5 875.1h-5.5M826.1 825.9h5.5M1325.5 825.9h-5.5M826.1 776.7h5.5M1325.5 776.7h-5.5M826.1 727.5h5.5M1325.5 727.5h-5.5M826.1 678.3h5.5M1325.5 678.3h-5.5M826.1 629.1h5.5M1325.5 629.1h-5.5M826.1 579.9h5.5M1325.5 579.9h-5.5" stroke="#303030" stroke-width="1.3" fill="none"/>
<rect x="826.1" y="579.9" width="499.4" height="393.6" fill="none" stroke="#303030" stroke-width="1.5"/>
<polyline points="826.1,955.7 827.3,958.6 828.5,955.5 829.7,959.6 830.9,955.7 832.1,958.5 833.3,956 834.4,959.3 835.6,956.1 836.8,959.8 838,956.2 839.2,959.4 840.4,955.2 841.6,959.8 842.8,956.2 844,958.5 845.2,955 846.4,959.9 847.6,954.7 848.7,958 849.9,954.5 851.1,959.1 852.3,955.4 853.5,958.8 854.7,955.4 855.9,958.8 857.1,954.7 858.3,957.9 859.5,953.8 860.7,959.7 861.9,954.6 863,959 864.2,955.3 865.4,957.8 866.6,954 867.8,958.9 869,954.9 870.2,958.1 871.4,955.2 872.6,958.5 873.8,955.3 875,957.7 876.2,955 877.4,957.6 878.5,955.1 879.7,958.4 880.9,953.8 882.1,957.4 883.3,954.8 884.5,957.6 885.7,954.7 886.9,958.4 888.1,954.1 889.3,957.7 890.5,953.1 891.7,958.3 892.8,954.6 894,957.1 895.2,954 896.4,957.2 897.6,953 898.8,957.1 900,954.4 901.2,957 902.4,953.1 903.6,957.6 904.8,952.6 906,956 907.1,952 908.3,956.1 909.5,953.8 910.7,958.3 911.9,952.4 913.1,956.4 914.3,952.9 915.5,956.1 916.7,952.5 917.9,955.8 919.1,953.2 920.3,956.3 921.5,952.8 922.6,956.2 923.8,952.7 925,955.7 926.2,951.5 927.4,955.2 928.6,951.2 929.8,956.1 931,951.7 932.2,955.2 933.4,951.7 934.6,957.2 935.8,951.8 936.9,956.3 938.1,951.8 939.3,954.6 940.5,950.6 941.7,955.7 942.9,952 944.1,955.7 945.3,951.3 946.5,955.8 947.7,951.3 948.9,954.1 950.1,949.8 951.2,954.6 952.4,949.8 953.6,953.7 954.8,950 956,954.5 957.2,950.4 958.4,953.2 959.6,950.4 960.8,954.5 962,949.1 963.2,954.4 964.4,949.7 965.6,953.2 966.7,949.1 967.9,952.6 969.1,948.5 970.3,951.6 971.5,947 972.7,951.6 973.9,947.6 975.1,950.6 976.3,947.6 977.5,952 978.7,947.4 979.9,951.1 981,947.1 982.2,951.1 983.4,946 984.6,951.4 985.8,945.6 987,949.1 988.2,945.8 989.4,949.7 990.6,945.3 991.8,949 993,943.5 994.2,947.8 995.3,942.8 996.5,947.7 997.7,942.8 998.9,946.2 1000.1,941.5 1001.3,946.9 1002.5,943.4 1003.7,946.2 1004.9,941.4 1006.1,945.7 1007.3,942.4 1008.5,945.4 1009.7,941.3 1010.8,945.7 1012,941.2 1013.2,946 1014.4,940.1 1015.6,945.3 1016.8,939.5 1018,943.6 1019.2,939.7 1020.4,942.9 1021.6,939.1 1022.8,945.1 1024,938.7 1025.1,942.2 1026.3,938.3 1027.5,941.5 1028.7,937.1 1029.9,940.8 1031.1,935.4 1032.3,940.4 1033.5,936.1 1034.7,941.3 1035.9,934 1037.1,938.7 1038.3,934.5 1039.4,937.5 1040.6,933 1041.8,937.7 1043,933.4 1044.2,937.7 1045.4,931.3 1046.6,937.5 1047.8,931.5 1049,936.3 1050.2,930.1 1051.4,934.9 1052.6,930.1 1053.8,935.5 1054.9,928.1 1056.1,933.6 1057.3,929.7 1058.5,933 1059.7,927.9 1060.9,932.1 1062.1,927.5 1063.3,931.9 1064.5,924.4 1065.7,931.6 1066.9,925 1068.1,930.8 1069.2,923.5 1070.4,929 1071.6,924.1 1072.8,929 1074,924.3 1075.2,928 1076.4,924.2 1077.6,929.6 1078.8,921 1080,926.7 1081.2,921.7 1082.4,925.3 1083.5,919.7 1084.7,926 1085.9,918.8 1087.1,925.6 1088.3,920.9 1089.5,926.1 1090.7,920.6 1091.9,924.6 1093.1,917.1 1094.3,923.5 1095.5,918.2 1096.7,924.5 1097.8,916 1099,921.6 1100.2,916.6 1101.4,921.8 1102.6,915 1103.8,921.1 1105,913.4 1106.2,918.3 1107.4,911.8 1108.6,916.2 1109.8,910.5 1111,917.5 1112.2,909 1113.3,914.4 1114.5,909.1 1115.7,914.7 1116.9,908.6 1118.1,915.2 1119.3,907.2 1120.5,912.8 1121.7,904.3 1122.9,911.6 1124.1,903.2 1125.3,910 1126.5,903.7 1127.6,909.4 1128.8,899.5 1130,906.9 1131.2,898.9 1132.4,906.3 1133.6,898.9 1134.8,904.5 1136,896.6 1137.2,902.5 1138.4,896.1 1139.6,901.5 1140.8,893.7 1141.9,901.5 1143.1,894.6 1144.3,899.2 1145.5,892.5 1146.7,897.5 1147.9,890 1149.1,900 1150.3,890.8 1151.5,895.6 1152.7,889.8 1153.9,894.2 1155.1,888.9 1156.3,892.8 1157.4,885.3 1158.6,892.1 1159.8,884.1 1161,891.9 1162.2,883.3 1163.4,889.1 1164.6,877.2 1165.8,889 1167,876.9 1168.2,884.7 1169.4,874.9 1170.6,884.9 1171.7,878.1 1172.9,883.3 1174.1,876.6 1175.3,883.9 1176.5,875.5 1177.7,881.1 1178.9,873.6 1180.1,878.4 1181.3,870.5 1182.5,877.6 1183.7,866.6 1184.9,876.5 1186,865.6 1187.2,873.1 1188.4,864.8 1189.6,871.3 1190.8,862.7 1192,871.1 1193.2,855.8 1194.4,864.5 1195.6,856.1 1196.8,864.4 1198,855 1199.2,865.2 1200.4,848.8 1201.5,858.5 1202.7,851.7 1203.9,859.8 1205.1,849.1 1206.3,854 1207.5,845.1 1208.7,853 1209.9,844.5 1211.1,851.8 1212.3,843.3 1213.5,851.2 1214.7,841.4 1215.8,852.2 1217,839.6 1218.2,848.8 1219.4,837.2 1220.6,844.8 1221.8,834.9 1223,842.2 1224.2,829.7 1225.4,840.1 1226.6,825.6 1227.8,836 1229,822 1230.1,835.7 1231.3,824.1 1232.5,833.7 1233.7,822.9 1234.9,832.7 1236.1,821.9 1237.3,832.3 1238.5,822.6 1239.7,832 1240.9,821.2 1242.1,830.9 1243.3,818.8 1244.5,824.8 1245.6,813.8 1246.8,820.5 1248,810 1249.2,820.6 1250.4,808.6 1251.6,820.4 1252.8,807.8 1254,817.6 1255.2,799.4 1256.4,813.2 1257.6,798.6 1258.8,806.6 1259.9,795.3 1261.1,804.1 1262.3,792.2 1263.5,805 1264.7,789.9 1265.9,799.4 1267.1,788.8 1268.3,798.3 1269.5,784.6 1270.7,796.3 1271.9,774.8 1273.1,789.1 1274.2,775.5 1275.4,789.8 1276.6,771.2 1277.8,783.4 1279,765.3 1280.2,782 1281.4,764.1 1282.6,778.9 1283.8,761.4 1285,775.5 1286.2,761.1 1287.4,775.5 1288.6,749.9 1289.7,766.5 1290.9,747.2 1292.1,759.8 1293.3,741.1 1294.5,758.6 1295.7,744.4 1296.9,757.7 1298.1,738.4 1299.3,761.8 1300.5,733.5 1301.7,751.2 1302.9,739.2 1304,750 1305.2,734.1 1306.4,747.2 1307.6,734.5 1308.8,740.8 1310,720.6 1311.2,745.1 1312.4,720.6 1313.6,739.1 1314.8,715.6 1316,728.4 1317.2,715.3 1318.3,724.7 1319.5,697 1320.7,713.4 1321.9,710 1323.1,729.9 1324.3,711.9 1325.5,724.5" fill="none" stroke="#0072BD" stroke-width="2.8" stroke-linejoin="round" clip-path="url(#cpe)"/>
<polyline points="826.1,955.7 827.3,960.7 828.5,953.9 829.7,953.8 830.9,950.1 832.1,954.5 833.3,950.3 834.4,953.6 835.6,949.7 836.8,953.9 838,950.6 839.2,955.1 840.4,948.3 841.6,953 842.8,948.7 844,954.3 845.2,947.6 846.4,952.4 847.6,949.7 848.7,953.2 849.9,948.8 851.1,954.5 852.3,950.6 853.5,953.6 854.7,948.4 855.9,953.6 857.1,950.3 858.3,953.8 859.5,949.1 860.7,954 861.9,949.4 863,955.1 864.2,950.9 865.4,954.8 866.6,951.2 867.8,954.2 869,949.9 870.2,954.6 871.4,951.3 872.6,954.9 873.8,950.4 875,955.5 876.2,950.4 877.4,955.4 878.5,951.6 879.7,954.8 880.9,951.4 882.1,955.1 883.3,951.2 884.5,956.6 885.7,950.1 886.9,955.2 888.1,949.9 889.3,956 890.5,951.7 891.7,954.7 892.8,951 894,956.2 895.2,951.9 896.4,954.8 897.6,949.8 898.8,954.6 900,950.2 901.2,955 902.4,950.9 903.6,956.9 904.8,951.9 906,955.3 907.1,949.8 908.3,954.9 909.5,952.2 910.7,955.9 911.9,950.5 913.1,955.5 914.3,952.1 915.5,955.9 916.7,951.6 917.9,954.7 919.1,951.2 920.3,956.2 921.5,950 922.6,954.5 923.8,951.7 925,954.5 926.2,951.2 927.4,955.2 928.6,951.3 929.8,954.9 931,950.9 932.2,955.9 933.4,951 934.6,955.6 935.8,952 936.9,955.8 938.1,951.2 939.3,954.8 940.5,951.9 941.7,955.2 942.9,950.2 944.1,955.3 945.3,951.7 946.5,956.4 947.7,952.9 948.9,956 950.1,953.3 951.2,955.9 952.4,952.5 953.6,956.6 954.8,952.7 956,956.7 957.2,952.1 958.4,958 959.6,951.6 960.8,956.5 962,952.2 963.2,955.9 964.4,951.1 965.6,957.7 966.7,952 967.9,955.7 969.1,951.7 970.3,955.9 971.5,951.8 972.7,955.8 973.9,952.9 975.1,956.6 976.3,951.9 977.5,957.8 978.7,953.3 979.9,956.4 981,952.4 982.2,956.3 983.4,952.9 984.6,956.5 985.8,953 987,956.1 988.2,953.3 989.4,958.3 990.6,952.4 991.8,957 993,953.8 994.2,958.8 995.3,952.4 996.5,958.6 997.7,953 998.9,956.9 1000.1,953.5 1001.3,957.7 1002.5,953.4 1003.7,957 1004.9,952.7 1006.1,957.4 1007.3,952.9 1008.5,958.9 1009.7,954.6 1010.8,957.6 1012,954.8 1013.2,957.8 1014.4,954.3 1015.6,957.9 1016.8,954 1018,958.4 1019.2,954.5 1020.4,957.3 1021.6,954.1 1022.8,958.5 1024,954 1025.1,957.7 1026.3,952.1 1027.5,956.8 1028.7,954.2 1029.9,957 1031.1,954 1032.3,957.7 1033.5,954.7 1034.7,958.7 1035.9,953.9 1037.1,958.9 1038.3,954.3 1039.4,957.2 1040.6,953.2 1041.8,957.2 1043,952.3 1044.2,958.2 1045.4,954.3 1046.6,957.2 1047.8,954.1 1049,958.6 1050.2,953.4 1051.4,957.1 1052.6,954.2 1053.8,957.5 1054.9,952.1 1056.1,957.2 1057.3,951.9 1058.5,956.9 1059.7,951.2 1060.9,956.5 1062.1,951.6 1063.3,956.1 1064.5,952.9 1065.7,957.1 1066.9,953.2 1068.1,957.4 1069.2,951.3 1070.4,956.2 1071.6,952.5 1072.8,956 1074,951.2 1075.2,954.9 1076.4,951.2 1077.6,955.2 1078.8,952.6 1080,955.9 1081.2,952.4 1082.4,955.9 1083.5,951.5 1084.7,955.8 1085.9,951.8 1087.1,955.1 1088.3,951.2 1089.5,956.4 1090.7,951.4 1091.9,955.9 1093.1,950.7 1094.3,956.1 1095.5,950.8 1096.7,954.2 1097.8,951 1099,954.7 1100.2,948.5 1101.4,953.9 1102.6,950.7 1103.8,955.2 1105,950.2 1106.2,955.3 1107.4,950.7 1108.6,955 1109.8,949.5 1111,954.7 1112.2,948.5 1113.3,954.2 1114.5,949.4 1115.7,953.5 1116.9,950.1 1118.1,955.1 1119.3,949.5 1120.5,952.5 1121.7,948.3 1122.9,952.8 1124.1,947.9 1125.3,951.7 1126.5,948.6 1127.6,953.3 1128.8,948.1 1130,953.2 1131.2,949.2 1132.4,952.8 1133.6,948.9 1134.8,951.9 1136,948.3 1137.2,951.3 1138.4,947.4 1139.6,951.8 1140.8,946.7 1141.9,951.3 1143.1,947.4 1144.3,950.8 1145.5,946.9 1146.7,952.5 1147.9,947 1149.1,950.6 1150.3,945.3 1151.5,950.6 1152.7,946.5 1153.9,951.3 1155.1,945.9 1156.3,949.2 1157.4,943.4 1158.6,949.1 1159.8,945.9 1161,949.5 1162.2,945.7 1163.4,948.9 1164.6,944.3 1165.8,948.6 1167,944.8 1168.2,948 1169.4,942.1 1170.6,948.8 1171.7,943.1 1172.9,947 1174.1,941.2 1175.3,947.4 1176.5,942.5 1177.7,948.1 1178.9,942 1180.1,948.3 1181.3,943.4 1182.5,947.9 1183.7,942.1 1184.9,947.2 1186,943.3 1187.2,946.8 1188.4,943 1189.6,946.6 1190.8,941.5 1192,945.9 1193.2,942.2 1194.4,945.5 1195.6,941.6 1196.8,945.1 1198,939.6 1199.2,945.9 1200.4,941.1 1201.5,944.9 1202.7,939.6 1203.9,946.2 1205.1,940.3 1206.3,944.2 1207.5,939.7 1208.7,943.9 1209.9,938.8 1211.1,945.3 1212.3,937.9 1213.5,943.5 1214.7,938 1215.8,942.9 1217,937.5 1218.2,943.3 1219.4,937.8 1220.6,944.4 1221.8,938.7 1223,942.5 1224.2,936.1 1225.4,942 1226.6,937.1 1227.8,941.1 1229,937.7 1230.1,941.6 1231.3,935 1232.5,941.8 1233.7,934.9 1234.9,940.1 1236.1,935.9 1237.3,939.8 1238.5,933.6 1239.7,939.6 1240.9,935.5 1242.1,941.5 1243.3,933 1244.5,940.9 1245.6,933.7 1246.8,938.4 1248,933.9 1249.2,939.4 1250.4,933.2 1251.6,937.7 1252.8,931.8 1254,937.3 1255.2,932.8 1256.4,937.3 1257.6,932.7 1258.8,938.2 1259.9,932.6 1261.1,937 1262.3,931.2 1263.5,937.5 1264.7,930.5 1265.9,936.4 1267.1,929.2 1268.3,937 1269.5,930 1270.7,935.4 1271.9,929 1273.1,933 1274.2,928.4 1275.4,933.3 1276.6,928.8 1277.8,932.6 1279,927.3 1280.2,933.3 1281.4,927.3 1282.6,932.3 1283.8,926.2 1285,931 1286.2,926 1287.4,931.6 1288.6,925.3 1289.7,929.7 1290.9,923.6 1292.1,930.7 1293.3,923.2 1294.5,927.2 1295.7,919.9 1296.9,925.5 1298.1,918.1 1299.3,926.9 1300.5,917.1 1301.7,925.2 1302.9,920.3 1304,924.9 1305.2,917 1306.4,925.4 1307.6,918.5 1308.8,923 1310,915.4 1311.2,924.7 1312.4,913.7 1313.6,920.4 1314.8,913.7 1316,920.6 1317.2,914.7 1318.3,920 1319.5,911.7 1320.7,919 1321.9,913 1323.1,917.5 1324.3,909.5 1325.5,914.1" fill="none" stroke="#FF0000" stroke-width="2.8" stroke-linejoin="round" clip-path="url(#cpe)"/>
<text transform="translate(826.1 1012)" font-size="31.4" text-anchor="middle" stroke="#000">0</text>
<text transform="translate(876 1012)" font-size="31.4" text-anchor="middle" stroke="#000">10</text>
<text transform="translate(926 1012)" font-size="31.4" text-anchor="middle" stroke="#000">20</text>
<text transform="translate(975.9 1012)" font-size="31.4" text-anchor="middle" stroke="#000">30</text>
<text transform="translate(1025.9 1012)" font-size="31.4" text-anchor="middle" stroke="#000">40</text>
<text transform="translate(1075.8 1012)" font-size="31.4" text-anchor="middle" stroke="#000">50</text>
<text transform="translate(1125.7 1012)" font-size="31.4" text-anchor="middle" stroke="#000">60</text>
<text transform="translate(1175.7 1012)" font-size="31.4" text-anchor="middle" stroke="#000">70</text>
<text transform="translate(1225.6 1012)" font-size="31.4" text-anchor="middle" stroke="#000">80</text>
<text transform="translate(1275.6 1012)" font-size="31.4" text-anchor="middle" stroke="#000">90</text>
<text transform="translate(1325.5 1012)" font-size="31.4" text-anchor="middle" stroke="#000">100</text>
<text transform="translate(814 984.5)" font-size="31.4" text-anchor="end" stroke="#000">0</text>
<text transform="translate(814 935.3)" font-size="31.4" text-anchor="end" stroke="#000">0.5</text>
<text transform="translate(814 886.1)" font-size="31.4" text-anchor="end" stroke="#000">1</text>
<text transform="translate(814 836.9)" font-size="31.4" text-anchor="end" stroke="#000">1.5</text>
<text transform="translate(814 787.7)" font-size="31.4" text-anchor="end" stroke="#000">2</text>
<text transform="translate(814 738.5)" font-size="31.4" text-anchor="end" stroke="#000">2.5</text>
<text transform="translate(814 689.3)" font-size="31.4" text-anchor="end" stroke="#000">3</text>
<text transform="translate(814 640.1)" font-size="31.4" text-anchor="end" stroke="#000">3.5</text>
<text transform="translate(814 590.9)" font-size="31.4" text-anchor="end" stroke="#000">4</text>
<text transform="translate(1076.4 1056.3)" font-size="35.5" text-anchor="middle" stroke="#000">Distance (km)</text>
<text transform="translate(745.4 775.7) rotate(-90)" font-size="35.5" text-anchor="middle" stroke="#000">BFS uncertainty (MHz)</text>
<path d="M837.2 600.8H900.4" stroke="#0072BD" stroke-width="3.5" fill="none"/>
<text transform="translate(912 610.8)" font-size="27" stroke="#000">Single pulse, 2 m</text>
<path d="M837.2 638.3H900.4" stroke="#FF0000" stroke-width="3.5" fill="none"/>
<text transform="translate(912 648.3)" font-size="27" stroke="#000">GO code, 2 m</text>
<path d="M1314.8 710.1L1235.3 694.2" stroke="#0072BD" stroke-width="1.9" fill="none"/>
<path d="M1222.1 691.6L1237.7 701.5L1235.3 694.2L1240.3 688.4Z" fill="#0072BD" stroke="#0072BD" stroke-width="0.6" stroke-linejoin="round"/>
<path d="M1317.5 904L1145.2 867.5" stroke="#FF0000" stroke-width="1.9" fill="none"/>
<path d="M1132 864.7L1147.4 874.8L1145.2 867.5L1150.2 861.8Z" fill="#FF0000" stroke="#FF0000" stroke-width="0.6" stroke-linejoin="round"/>
<text transform="translate(1210.5 694) scale(1.030 1)" font-size="31" text-anchor="end" fill="#0072BD" stroke="#0072BD">2.65 MHz</text>
<text transform="translate(1123.7 867.7) scale(1.030 1)" font-size="31" text-anchor="end" fill="#FF0000" stroke="#FF0000">0.63 MHz</text>
<path d="M1543.4 580V973.5M1593.3 580V973.5M1643.2 580V973.5M1693.1 580V973.5M1743 580V973.5M1792.9 580V973.5M1842.8 580V973.5M1892.7 580V973.5M1942.6 580V973.5M1493.5 907.9H1992.5M1493.5 842.3H1992.5M1493.5 776.7H1992.5M1493.5 711.2H1992.5M1493.5 645.6H1992.5" stroke="#d6d6d6" stroke-width="1.1" fill="none"/>
<path d="M1493.5 973.5v-5.5M1493.5 580v5.5M1543.4 973.5v-5.5M1543.4 580v5.5M1593.3 973.5v-5.5M1593.3 580v5.5M1643.2 973.5v-5.5M1643.2 580v5.5M1693.1 973.5v-5.5M1693.1 580v5.5M1743 973.5v-5.5M1743 580v5.5M1792.9 973.5v-5.5M1792.9 580v5.5M1842.8 973.5v-5.5M1842.8 580v5.5M1892.7 973.5v-5.5M1892.7 580v5.5M1942.6 973.5v-5.5M1942.6 580v5.5M1992.5 973.5v-5.5M1992.5 580v5.5M1493.5 973.5h5.5M1992.5 973.5h-5.5M1493.5 907.9h5.5M1992.5 907.9h-5.5M1493.5 842.3h5.5M1992.5 842.3h-5.5M1493.5 776.7h5.5M1992.5 776.7h-5.5M1493.5 711.2h5.5M1992.5 711.2h-5.5M1493.5 645.6h5.5M1992.5 645.6h-5.5M1493.5 580h5.5M1992.5 580h-5.5" stroke="#303030" stroke-width="1.3" fill="none"/>
<rect x="1493.5" y="580" width="499" height="393.5" fill="none" stroke="#303030" stroke-width="1.5"/>
<polyline points="1493.5,962.8 1494.8,965.3 1496,963.1 1497.3,966.2 1498.5,962.9 1499.8,965.8 1501,963.5 1502.3,966.2 1503.5,963 1504.8,964.9 1506,962.8 1507.3,964 1508.5,961.6 1509.8,963.8 1511,961.9 1512.3,964.8 1513.5,961.8 1514.8,963.5 1516,961.6 1517.3,964.2 1518.5,960.2 1519.8,962.8 1521,960.2 1522.3,963.3 1523.5,961.2 1524.8,964.9 1526,962.1 1527.3,964.3 1528.5,962 1529.8,964.4 1531,961.8 1532.3,963 1533.5,960.9 1534.8,962.5 1536,961.1 1537.3,961.9 1538.5,959.5 1539.8,962.9 1541,959.2 1542.3,961.4 1543.5,959.7 1544.8,962.8 1546,960.7 1547.3,962.3 1548.5,958.6 1549.8,961.9 1551,959.2 1552.3,961.7 1553.5,957.8 1554.8,960.7 1556,959.2 1557.3,961.4 1558.5,958.1 1559.8,960.2 1561,958.3 1562.3,960.7 1563.5,958.6 1564.8,960.7 1566,957.1 1567.3,961 1568.5,958.8 1569.8,961.2 1571,958.8 1572.3,960.6 1573.5,959.4 1574.8,961.9 1576,957.6 1577.3,960.1 1578.5,957 1579.8,960.7 1581,957.7 1582.3,959.3 1583.5,956.8 1584.8,959.3 1586,956.3 1587.3,958.5 1588.5,956.7 1589.8,958.5 1591,955.8 1592.3,959.2 1593.6,955.3 1594.8,959.2 1596.1,956.8 1597.3,958.5 1598.6,956.5 1599.8,959.1 1601.1,957.8 1602.3,959.2 1603.6,956.9 1604.8,958.4 1606.1,954.9 1607.3,958.5 1608.6,954.7 1609.8,958.9 1611.1,952.8 1612.3,956.5 1613.6,951.8 1614.8,957.1 1616.1,952.3 1617.3,956.7 1618.6,953.5 1619.8,955.9 1621.1,953.7 1622.3,955 1623.6,951.4 1624.8,955.8 1626.1,952.2 1627.3,957.1 1628.6,953.3 1629.8,954.9 1631.1,951.6 1632.3,953.8 1633.6,950.5 1634.8,954.8 1636.1,950.1 1637.3,952.8 1638.6,950.1 1639.8,952.6 1641.1,949 1642.3,952.4 1643.6,948.9 1644.8,952.5 1646.1,951.3 1647.3,955.2 1648.6,949.6 1649.8,954 1651.1,949.5 1652.3,954.6 1653.6,949.8 1654.8,951.9 1656.1,948.2 1657.3,951.8 1658.6,946.2 1659.8,949.9 1661.1,947.1 1662.3,953.4 1663.6,946.9 1664.8,951.4 1666.1,947.5 1667.3,951.5 1668.6,947.2 1669.8,948.7 1671.1,947.4 1672.3,950.1 1673.6,947 1674.8,951.1 1676.1,947.9 1677.3,952 1678.6,947.9 1679.8,950.1 1681.1,944 1682.3,950.1 1683.6,943.4 1684.8,948.2 1686.1,946.4 1687.3,948 1688.6,943.7 1689.8,948.7 1691.1,941.5 1692.3,946 1693.6,942.1 1694.9,946.8 1696.1,940.7 1697.4,946.6 1698.6,940.9 1699.9,942.6 1701.1,938 1702.4,941.9 1703.6,935.5 1704.9,940.4 1706.1,935.2 1707.4,940.6 1708.6,934.2 1709.9,936.4 1711.1,934.7 1712.4,937.2 1713.6,931.8 1714.9,937.6 1716.1,931.9 1717.4,937.4 1718.6,933.8 1719.9,941 1721.1,933.4 1722.4,940.8 1723.6,934.3 1724.9,935.7 1726.1,932.5 1727.4,939.5 1728.6,929.3 1729.9,934.8 1731.1,930.9 1732.4,936.7 1733.6,929.2 1734.9,932.3 1736.1,929 1737.4,934.3 1738.6,930.5 1739.9,934.2 1741.1,928.2 1742.4,933.7 1743.6,929.3 1744.9,935.1 1746.1,930.3 1747.4,936.1 1748.6,929.6 1749.9,931.7 1751.1,924.5 1752.4,931.7 1753.6,924.1 1754.9,932.9 1756.1,920.8 1757.4,931.4 1758.6,927.3 1759.9,933.2 1761.1,925.8 1762.4,932.3 1763.6,927.5 1764.9,928.3 1766.1,922.1 1767.4,927.6 1768.6,921 1769.9,928.8 1771.1,923.7 1772.4,926.1 1773.6,919.3 1774.9,928 1776.1,919.3 1777.4,926.8 1778.6,912.5 1779.9,923.7 1781.1,915.5 1782.4,922.5 1783.6,913.8 1784.9,924.1 1786.1,908.8 1787.4,919.1 1788.6,907.5 1789.9,921.8 1791.1,912.6 1792.4,917.2 1793.7,907.1 1794.9,919.6 1796.2,907.1 1797.4,916.1 1798.7,903.7 1799.9,916 1801.2,901.3 1802.4,918.9 1803.7,908.6 1804.9,920.6 1806.2,907.5 1807.4,911.7 1808.7,900.4 1809.9,908.5 1811.2,896.1 1812.4,903.7 1813.7,892.7 1814.9,904.7 1816.2,895.9 1817.4,905.2 1818.7,892.8 1819.9,909.3 1821.2,899.4 1822.4,914.7 1823.7,902.4 1824.9,902.9 1826.2,893.8 1827.4,901.9 1828.7,885 1829.9,896.5 1831.2,890.2 1832.4,896.7 1833.7,890.5 1834.9,904.2 1836.2,892.4 1837.4,904.8 1838.7,888.3 1839.9,898.6 1841.2,886.7 1842.4,891.9 1843.7,879.2 1844.9,894 1846.2,879.5 1847.4,890.8 1848.7,867.6 1849.9,886.3 1851.2,868.7 1852.4,872.4 1853.7,862 1854.9,881.2 1856.2,868.2 1857.4,886.3 1858.7,873.9 1859.9,890.9 1861.2,882 1862.4,889 1863.7,877.1 1864.9,888.4 1866.2,874.3 1867.4,877.4 1868.7,863.5 1869.9,873.2 1871.2,861.8 1872.4,874.6 1873.7,861.1 1874.9,873.2 1876.2,850.7 1877.4,864.7 1878.7,840.7 1879.9,861.6 1881.2,843.5 1882.4,862.9 1883.7,837.8 1884.9,853.8 1886.2,842.6 1887.4,852 1888.7,841 1889.9,854.4 1891.2,844.1 1892.4,850.8 1893.7,838.4 1895,847.1 1896.2,830.9 1897.5,853.6 1898.7,840.3 1900,855 1901.2,843.2 1902.5,853.6 1903.7,840.9 1905,856.8 1906.2,835.4 1907.5,847 1908.7,822.2 1910,842.1 1911.2,823.9 1912.5,850.7 1913.7,812.3 1915,839.1 1916.2,810.2 1917.5,835.5 1918.7,801.7 1920,837.2 1921.2,823.4 1922.5,848 1923.7,824.4 1925,819.8 1926.2,783.3 1927.5,804.1 1928.7,789.5 1930,815.9 1931.2,811.1 1932.5,830.5 1933.7,800.6 1935,834.3 1936.2,798.2 1937.5,832.2 1938.7,808.4 1940,820.5 1941.2,791.8 1942.5,822.5 1943.7,775.8 1945,820.3 1946.2,775.9 1947.5,796.5 1948.7,766.2 1950,810.9 1951.2,754 1952.5,790.1 1953.7,752.1 1955,774.6 1956.2,748.9 1957.5,786.4 1958.7,750.8 1960,789.4 1961.2,763.7 1962.5,788.3 1963.7,772.8 1965,785.1 1966.2,747.5 1967.5,761.9 1968.7,736.4 1970,749.7 1971.2,725.3 1972.5,781.2 1973.7,741.1 1975,745.3 1976.2,716 1977.5,721.6 1978.7,679.4 1980,694.7 1981.2,642.7 1982.5,663.9 1983.7,632.5 1985,664.2 1986.2,635.5 1987.5,701.2 1988.7,685 1990,742.3 1991.2,708.2 1992.5,756.6" fill="none" stroke="#0072BD" stroke-width="3.0" stroke-linejoin="round" clip-path="url(#cpf)"/>
<polyline points="1493.5,963.9 1494.8,965.9 1496,962.9 1497.3,965.1 1498.5,961.4 1499.8,964.5 1501,961.9 1502.3,965.5 1503.5,960.6 1504.8,963.8 1506,959.6 1507.3,963.6 1508.5,960.9 1509.8,963.2 1511,960.5 1512.3,964.3 1513.5,958.8 1514.8,962.6 1516,959.8 1517.3,962.6 1518.5,959.2 1519.8,962.5 1521,959.4 1522.3,962.5 1523.5,959.9 1524.8,962.4 1526,958.3 1527.3,962 1528.5,958.8 1529.8,962.6 1531,957.7 1532.3,962.9 1533.5,959.1 1534.8,962.4 1536,959.6 1537.3,962.2 1538.5,959.4 1539.8,962.2 1541,959.7 1542.3,963.3 1543.5,959.8 1544.8,962.4 1546,958.9 1547.3,962.2 1548.5,959.5 1549.8,962.9 1551,958.7 1552.3,962.1 1553.5,959.8 1554.8,962 1556,959.1 1557.3,962.2 1558.5,958.8 1559.8,962.6 1561,959.9 1562.3,962.6 1563.5,959.2 1564.8,962.1 1566,959.7 1567.3,962.5 1568.5,959.2 1569.8,962.7 1571,960.3 1572.3,963.1 1573.5,960.5 1574.8,962.9 1576,959.2 1577.3,963 1578.5,959.4 1579.8,963 1581,959.6 1582.3,964.1 1583.5,959.1 1584.8,964.3 1586,960.1 1587.3,963.6 1588.5,960.5 1589.8,963.9 1591,960.4 1592.3,963.3 1593.6,959.7 1594.8,962.7 1596.1,960.3 1597.3,964.2 1598.6,959.6 1599.8,962.8 1601.1,959.9 1602.3,963.1 1603.6,958.6 1604.8,962.9 1606.1,958.6 1607.3,962.3 1608.6,960.1 1609.8,963.1 1611.1,959.3 1612.3,963.9 1613.6,958.5 1614.8,962.4 1616.1,959.4 1617.3,963 1618.6,959.2 1619.8,962.2 1621.1,959.1 1622.3,962.3 1623.6,958.3 1624.8,963.2 1626.1,959.1 1627.3,962.4 1628.6,957.9 1629.8,962.2 1631.1,958.2 1632.3,961.8 1633.6,959.5 1634.8,962.6 1636.1,959.3 1637.3,964.3 1638.6,959.8 1639.8,964.4 1641.1,960.9 1642.3,964.1 1643.6,961 1644.8,965.3 1646.1,960 1647.3,964.2 1648.6,960.5 1649.8,964.9 1651.1,960.5 1652.3,963.9 1653.6,961.3 1654.8,964.2 1656.1,960.3 1657.3,963.8 1658.6,961.5 1659.8,964.5 1661.1,961.1 1662.3,963.4 1663.6,961 1664.8,964.4 1666.1,960.3 1667.3,963.2 1668.6,960.9 1669.8,963.9 1671.1,960.8 1672.3,964.5 1673.6,961.1 1674.8,963.8 1676.1,961.3 1677.3,963.4 1678.6,961 1679.8,963.3 1681.1,960.3 1682.3,963.6 1683.6,959.9 1684.8,963.5 1686.1,960.5 1687.3,964.1 1688.6,960.3 1689.8,964.4 1691.1,961.1 1692.3,963.5 1693.6,961 1694.9,963.6 1696.1,960.1 1697.4,965 1698.6,960.5 1699.9,964.2 1701.1,960.4 1702.4,963.3 1703.6,960 1704.9,963.1 1706.1,960.8 1707.4,963.5 1708.6,961 1709.9,963.8 1711.1,961 1712.4,963.6 1713.6,960 1714.9,963.5 1716.1,961 1717.4,963.9 1718.6,960 1719.9,963.4 1721.1,960.8 1722.4,963.5 1723.6,960.7 1724.9,963.9 1726.1,960.6 1727.4,963.5 1728.6,961.2 1729.9,963.6 1731.1,961.3 1732.4,964.6 1733.6,960.6 1734.9,963.6 1736.1,961 1737.4,964.8 1738.6,959.6 1739.9,963.3 1741.1,960.1 1742.4,964 1743.6,959 1744.9,963.3 1746.1,960.2 1747.4,963.3 1748.6,960.6 1749.9,963.3 1751.1,960.8 1752.4,964.9 1753.6,960.5 1754.9,963.8 1756.1,959.2 1757.4,963.4 1758.6,959.7 1759.9,963.6 1761.1,960.8 1762.4,963.5 1763.6,960 1764.9,963 1766.1,960.3 1767.4,963.2 1768.6,958.8 1769.9,962.3 1771.1,960 1772.4,963.9 1773.6,960 1774.9,962.8 1776.1,959.4 1777.4,962.8 1778.6,959.2 1779.9,962.8 1781.1,959.9 1782.4,962.6 1783.6,959.9 1784.9,962.5 1786.1,958.6 1787.4,962 1788.6,958.8 1789.9,963.1 1791.1,959.9 1792.4,964.1 1793.7,959.5 1794.9,962.3 1796.2,959.8 1797.4,963.3 1798.7,959.5 1799.9,962 1801.2,958.7 1802.4,963.5 1803.7,958.2 1804.9,962.1 1806.2,959.7 1807.4,962.8 1808.7,957.8 1809.9,961.8 1811.2,959.4 1812.4,962.4 1813.7,957.5 1814.9,962.8 1816.2,958.1 1817.4,962.5 1818.7,958.6 1819.9,961.4 1821.2,958.1 1822.4,961.6 1823.7,957.7 1824.9,962 1826.2,957.8 1827.4,960.4 1828.7,958.2 1829.9,960.5 1831.2,957.2 1832.4,961.3 1833.7,957.3 1834.9,960.9 1836.2,955.7 1837.4,960 1838.7,956.5 1839.9,961.1 1841.2,955.4 1842.4,959.6 1843.7,955.1 1844.9,959.1 1846.2,956.9 1847.4,960.1 1848.7,956.4 1849.9,960.2 1851.2,957.1 1852.4,959.7 1853.7,956.9 1854.9,959.3 1856.2,955 1857.4,959.2 1858.7,956 1859.9,959.4 1861.2,954.7 1862.4,959.2 1863.7,955.7 1864.9,959.3 1866.2,956 1867.4,958.7 1868.7,955.1 1869.9,959.3 1871.2,954.7 1872.4,959 1873.7,954.4 1874.9,958.4 1876.2,955.5 1877.4,958.9 1878.7,956.3 1879.9,959.5 1881.2,955 1882.4,960 1883.7,954.1 1884.9,959.4 1886.2,954.2 1887.4,959.3 1888.7,954.7 1889.9,958.6 1891.2,952.9 1892.4,958.3 1893.7,953.9 1895,958 1896.2,954 1897.5,956.6 1898.7,953.9 1900,958 1901.2,953.7 1902.5,957.1 1903.7,952.9 1905,955.8 1906.2,953.4 1907.5,957.7 1908.7,952.5 1910,956.6 1911.2,953.9 1912.5,956.4 1913.7,952.9 1915,955.4 1916.2,952.2 1917.5,955.4 1918.7,951.2 1920,954.7 1921.2,951.8 1922.5,955.2 1923.7,950.3 1925,954.6 1926.2,950.2 1927.5,954.6 1928.7,950.9 1930,954.6 1931.2,948.1 1932.5,953.6 1933.7,948.4 1935,953.6 1936.2,949.5 1937.5,954.1 1938.7,949.3 1940,954.3 1941.2,949.6 1942.5,952.9 1943.7,949.4 1945,952.6 1946.2,949.1 1947.5,952.3 1948.7,948.4 1950,951.9 1951.2,947.4 1952.5,952.8 1953.7,948 1955,951 1956.2,947.6 1957.5,950.8 1958.7,947.4 1960,952 1961.2,944.7 1962.5,951 1963.7,943.5 1965,950.3 1966.2,944.9 1967.5,947.4 1968.7,943 1970,947.1 1971.2,943.6 1972.5,948.9 1973.7,942.4 1975,946.8 1976.2,940.5 1977.5,947.8 1978.7,940.1 1980,945.5 1981.2,939.4 1982.5,944.9 1983.7,941.5 1985,945.5 1986.2,939 1987.5,946.3 1988.7,941.6 1990,947.8 1991.2,942.2 1992.5,946.9" fill="none" stroke="#FF0000" stroke-width="3.0" stroke-linejoin="round" clip-path="url(#cpf)"/>
<text transform="translate(1493.5 1012)" font-size="31.4" text-anchor="middle" stroke="#000">0</text>
<text transform="translate(1543.4 1012)" font-size="31.4" text-anchor="middle" stroke="#000">10</text>
<text transform="translate(1593.3 1012)" font-size="31.4" text-anchor="middle" stroke="#000">20</text>
<text transform="translate(1643.2 1012)" font-size="31.4" text-anchor="middle" stroke="#000">30</text>
<text transform="translate(1693.1 1012)" font-size="31.4" text-anchor="middle" stroke="#000">40</text>
<text transform="translate(1743 1012)" font-size="31.4" text-anchor="middle" stroke="#000">50</text>
<text transform="translate(1792.9 1012)" font-size="31.4" text-anchor="middle" stroke="#000">60</text>
<text transform="translate(1842.8 1012)" font-size="31.4" text-anchor="middle" stroke="#000">70</text>
<text transform="translate(1892.7 1012)" font-size="31.4" text-anchor="middle" stroke="#000">80</text>
<text transform="translate(1942.6 1012)" font-size="31.4" text-anchor="middle" stroke="#000">90</text>
<text transform="translate(1992.5 1012)" font-size="31.4" text-anchor="middle" stroke="#000">100</text>
<text transform="translate(1481.4 984.5)" font-size="31.4" text-anchor="end" stroke="#000">0</text>
<text transform="translate(1481.4 918.9)" font-size="31.4" text-anchor="end" stroke="#000">5</text>
<text transform="translate(1481.4 853.3)" font-size="31.4" text-anchor="end" stroke="#000">10</text>
<text transform="translate(1481.4 787.7)" font-size="31.4" text-anchor="end" stroke="#000">15</text>
<text transform="translate(1481.4 722.2)" font-size="31.4" text-anchor="end" stroke="#000">20</text>
<text transform="translate(1481.4 656.6)" font-size="31.4" text-anchor="end" stroke="#000">25</text>
<text transform="translate(1481.4 591)" font-size="31.4" text-anchor="end" stroke="#000">30</text>
<text transform="translate(1743.4 1058.9)" font-size="35.5" text-anchor="middle" stroke="#000">Distance (km)</text>
<text transform="translate(1421 775.7) rotate(-90)" font-size="35.5" text-anchor="middle" stroke="#000">BFS uncertainty (MHz)</text>
<path d="M1504.6 599.8H1567.8" stroke="#0072BD" stroke-width="3.5" fill="none"/>
<text transform="translate(1579 609.1)" font-size="27" stroke="#000">Single pulse, 1 m</text>
<path d="M1504.6 637H1567.8" stroke="#FF0000" stroke-width="3.5" fill="none"/>
<text transform="translate(1579 646.3)" font-size="27" stroke="#000">GO code, 1 m</text>
<path d="M1973 713L1887 695.2" stroke="#0072BD" stroke-width="1.9" fill="none"/>
<path d="M1873.8 692.5L1889.3 702.5L1887 695.2L1892 689.4Z" fill="#0072BD" stroke="#0072BD" stroke-width="0.6" stroke-linejoin="round"/>
<path d="M1987.8 936.1L1757.5 891.1" stroke="#FF0000" stroke-width="1.9" fill="none"/>
<path d="M1744.3 888.5L1759.9 898.3L1757.5 891.1L1762.5 885.3Z" fill="#FF0000" stroke="#FF0000" stroke-width="0.6" stroke-linejoin="round"/>
<text transform="translate(1864.5 695.7) scale(1.020 1)" font-size="31" text-anchor="end" fill="#0072BD" stroke="#0072BD">18.9 MHz</text>
<text transform="translate(1736.4 892.5) scale(1.030 1)" font-size="31" text-anchor="end" fill="#FF0000" stroke="#FF0000">2.2 MHz</text>
<text transform="translate(-0.7 30.8)" font-size="41.5" font-weight="bold" stroke="#000">a</text>
<text transform="translate(717 30.8)" font-size="41.5" font-weight="bold" stroke="#000">b</text>
<text transform="translate(1392.4 30.8)" font-size="41.5" font-weight="bold" stroke="#000">c</text>
<text transform="translate(-0.7 582.4)" font-size="41.5" font-weight="bold" stroke="#000">d</text>
<text transform="translate(716.6 582.4)" font-size="41.5" font-weight="bold" stroke="#000">e</text>
<text transform="translate(1393 582.4)" font-size="41.5" font-weight="bold" stroke="#000">f</text>
</svg>
</body></html>
